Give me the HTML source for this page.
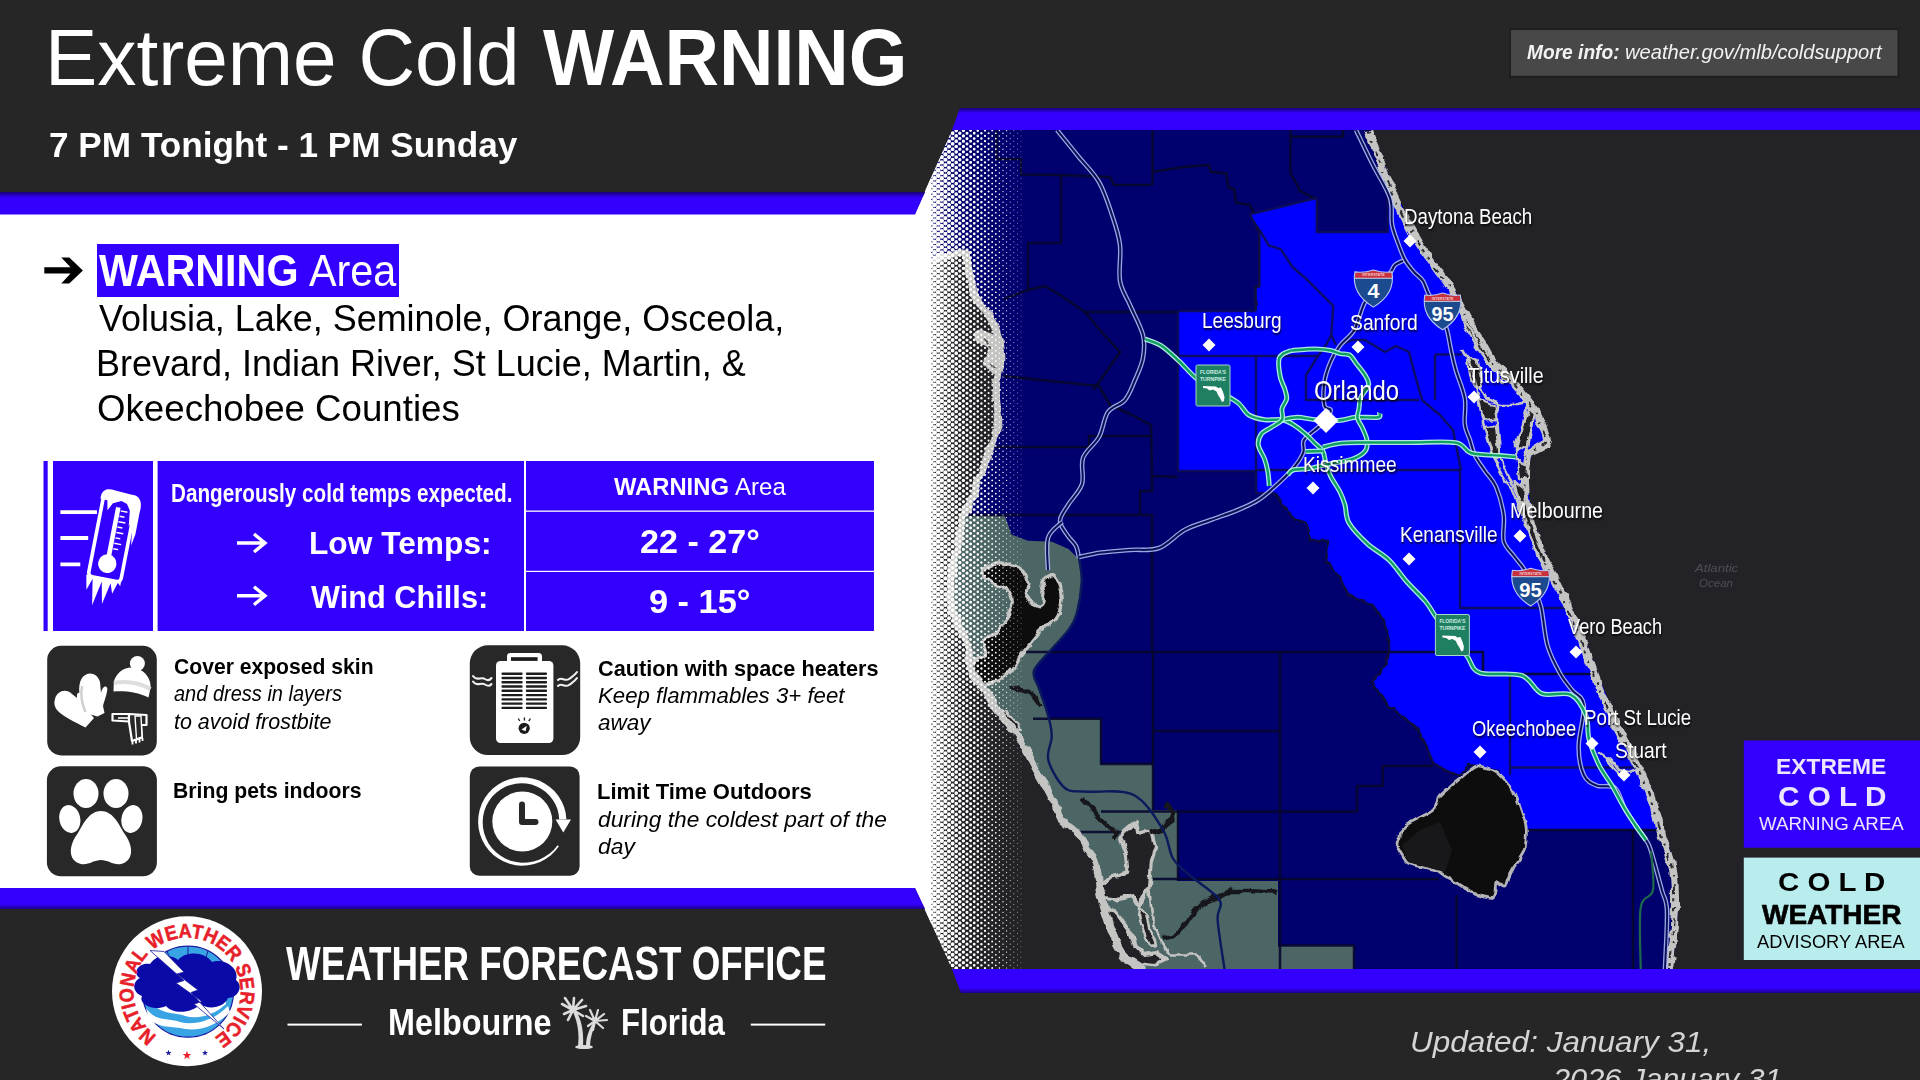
<!DOCTYPE html>
<html><head><meta charset="utf-8"><title>Extreme Cold WARNING</title>
<style>
html,body{margin:0;padding:0;}
html{overflow:hidden;width:1920px;height:1080px;}
body{width:1920px;height:1080px;overflow:hidden;background:#262626;font-family:"Liberation Sans",sans-serif;position:relative;}
.t{position:absolute;white-space:pre;line-height:1;transform-origin:0 0;display:block;}
svg{position:absolute;left:0;top:0;}
#page{position:absolute;left:0;top:0;width:1920px;height:1080px;overflow:hidden;}
</style></head>
<body>
<div id="page">
<svg width="1920" height="1080" viewBox="0 0 1920 1080" font-family="Liberation Sans, sans-serif">
<defs>
<clipPath id="mapclip"><path d="M952,130 L1920,130 L1920,969 L952,969 L915,888 L915,214 Z"/></clipPath>
<clipPath id="whiteclip"><path d="M0,214 L915,214 L952,130 L1920,130 L1920,969 L952,969 L915,888 L0,888 Z"/></clipPath>
<clipPath id="landclip"><path d="M900.0,120.0 L1371.0,120.0 L1371.0,130.0 L1383.0,160.0 L1395.0,192.0 L1408.0,218.0 L1421.0,242.0 L1436.0,264.0 L1452.0,286.0 L1464.0,307.0 L1475.0,327.0 L1487.0,346.0 L1498.0,365.0 L1514.0,380.0 L1530.0,399.0 L1540.0,414.0 L1546.0,428.0 L1550.0,441.0 L1541.0,448.0 L1532.0,453.0 L1529.0,465.0 L1528.0,476.0 L1529.0,495.0 L1532.0,515.0 L1538.0,535.0 L1545.0,554.0 L1558.0,580.0 L1573.0,612.0 L1584.0,638.0 L1594.0,664.0 L1604.0,690.0 L1615.0,716.0 L1628.0,742.0 L1642.0,769.0 L1653.0,795.0 L1661.0,822.0 L1669.0,846.0 L1676.0,869.0 L1678.0,890.0 L1678.0,911.0 L1676.0,940.0 L1672.0,969.0 L1672.0,975.0 L1140.0,975.0 L1128.5,961.3 L1116.5,944.0 L1106.3,916.8 L1099.4,892.8 L1098.0,878.0 L1094.3,862.0 L1086.0,847.0 L1077.0,832.8 L1060.0,819.0 L1054.0,804.0 L1046.0,788.0 L1035.0,768.0 L1024.0,747.0 L1013.0,730.0 L1002.0,716.0 L993.0,705.0 L982.0,686.0 L972.0,673.0 L969.0,660.0 L967.0,643.0 L958.0,625.0 L950.0,606.0 L950.0,588.0 L952.0,570.0 L956.0,551.0 L960.0,530.0 L963.0,514.0 L969.0,504.0 L977.0,483.0 L984.5,463.0 L992.0,443.0 L998.0,422.0 L996.0,402.0 L996.0,381.0 L1000.0,361.0 L999.0,345.0 L996.0,332.0 L991.0,320.0 L985.0,311.0 L977.0,300.0 L973.0,290.0 L968.0,270.0 L964.0,253.0 L950.0,255.0 L936.0,259.0 L915.0,262.0 L900.0,262.0Z"/></clipPath>
<linearGradient id="shd" x1="0" y1="0" x2="0" y2="1"><stop offset="0" stop-color="#000" stop-opacity=".55"/><stop offset="1" stop-color="#000" stop-opacity="0"/></linearGradient>
<linearGradient id="shu" x1="0" y1="1" x2="0" y2="0"><stop offset="0" stop-color="#000" stop-opacity=".45"/><stop offset="1" stop-color="#000" stop-opacity="0"/></linearGradient>
<filter id="rough" x="-5%" y="-5%" width="110%" height="110%"><feTurbulence type="fractalNoise" baseFrequency="0.09" numOctaves="2" seed="4" result="n"/><feDisplacementMap in="SourceGraphic" in2="n" scale="7" xChannelSelector="R" yChannelSelector="G"/></filter>
<filter id="rough2" x="-5%" y="-5%" width="110%" height="110%"><feTurbulence type="fractalNoise" baseFrequency="0.12" numOctaves="2" seed="9" result="n"/><feDisplacementMap in="SourceGraphic" in2="n" scale="4.5" xChannelSelector="R" yChannelSelector="G"/></filter>
</defs>
<g clip-path="url(#mapclip)">
<rect x="900" y="120" width="1030" height="860" fill="#232327"/>
<path d="M900.0,120.0 L1371.0,120.0 L1371.0,130.0 L1383.0,160.0 L1395.0,192.0 L1408.0,218.0 L1421.0,242.0 L1436.0,264.0 L1452.0,286.0 L1464.0,307.0 L1475.0,327.0 L1487.0,346.0 L1498.0,365.0 L1514.0,380.0 L1530.0,399.0 L1540.0,414.0 L1546.0,428.0 L1550.0,441.0 L1541.0,448.0 L1532.0,453.0 L1529.0,465.0 L1528.0,476.0 L1529.0,495.0 L1532.0,515.0 L1538.0,535.0 L1545.0,554.0 L1558.0,580.0 L1573.0,612.0 L1584.0,638.0 L1594.0,664.0 L1604.0,690.0 L1615.0,716.0 L1628.0,742.0 L1642.0,769.0 L1653.0,795.0 L1661.0,822.0 L1669.0,846.0 L1676.0,869.0 L1678.0,890.0 L1678.0,911.0 L1676.0,940.0 L1672.0,969.0 L1672.0,975.0 L1140.0,975.0 L1128.5,961.3 L1116.5,944.0 L1106.3,916.8 L1099.4,892.8 L1098.0,878.0 L1094.3,862.0 L1086.0,847.0 L1077.0,832.8 L1060.0,819.0 L1054.0,804.0 L1046.0,788.0 L1035.0,768.0 L1024.0,747.0 L1013.0,730.0 L1002.0,716.0 L993.0,705.0 L982.0,686.0 L972.0,673.0 L969.0,660.0 L967.0,643.0 L958.0,625.0 L950.0,606.0 L950.0,588.0 L952.0,570.0 L956.0,551.0 L960.0,530.0 L963.0,514.0 L969.0,504.0 L977.0,483.0 L984.5,463.0 L992.0,443.0 L998.0,422.0 L996.0,402.0 L996.0,381.0 L1000.0,361.0 L999.0,345.0 L996.0,332.0 L991.0,320.0 L985.0,311.0 L977.0,300.0 L973.0,290.0 L968.0,270.0 L964.0,253.0 L950.0,255.0 L936.0,259.0 L915.0,262.0 L900.0,262.0Z" fill="#00006e"/>
<g clip-path="url(#landclip)">
<path d="M900.0,516.0 L1005.0,516.0 L1011.5,534.6 L1027.8,540.7 L1052.0,541.8 L1068.5,549.0 L1080.7,561.0 L1081.7,581.5 L1076.6,614.0 L1068.5,630.0 L1052.0,648.7 L1036.0,667.0 L1034.0,676.0 L1039.6,690.0 L1049.0,718.7 L1101.0,718.7 L1101.0,764.0 L1153.0,764.0 L1153.0,810.0 L1178.0,810.0 L1178.0,881.0 L1278.0,881.0 L1278.0,945.4 L1354.0,945.4 L1354.0,975.0 L900.0,975.0Z" fill="#4c6565"/>
<path d="M1477.0,766.0 L1469.0,765.0 L1459.0,776.0 L1445.0,770.0 L1433.0,763.0 L1426.0,745.0 L1417.0,728.0 L1402.0,716.0 L1389.0,706.0 L1378.0,692.0 L1372.0,681.0 L1380.0,672.0 L1386.0,665.0 L1389.0,652.0 L1389.0,640.0 L1384.0,622.0 L1374.0,607.0 L1360.0,600.0 L1348.0,594.0 L1340.0,578.0 L1334.0,570.0 L1326.0,562.0 L1328.0,541.0 L1310.0,541.0 L1308.0,526.0 L1290.0,515.0 L1274.0,493.0 L1256.0,493.0 L1256.0,471.0 L1178.0,471.0 L1178.0,311.0 L1255.5,311.0 L1255.5,287.0 L1259.5,286.0 L1259.5,232.0 L1254.0,222.0 L1249.7,214.4 L1283.0,206.0 L1316.8,198.0 L1316.8,232.0 L1387.7,232.0 L1387.7,191.0 L1800.0,191.0 L1800.0,830.0 L1500.0,830.0 L1500.0,770.0Z" fill="#0000fe"/>
</g>
<g fill="none" stroke="#07072c" stroke-opacity=".9" stroke-width="2.5" stroke-linejoin="round">
<path d="M996.5,130.0 L996.5,159.0 L1021.0,159.0 L1021.0,174.5 L1061.0,175.0 L1110.0,177.0 L1114.0,185.0 L1151.0,185.0"/>
<path d="M1152.5,130.0 L1152.5,185.3"/>
<path d="M1152.5,171.7 L1185.5,166.8 L1208.9,164.9 L1210.8,171.7 L1226.4,173.6 L1228.3,187.2 L1234.1,189.2 L1236.1,202.8 L1249.7,204.7 L1253.6,212.5"/>
<path d="M1290.5,136.7 L1343.0,136.7 L1343.0,130.0"/>
<path d="M1061.0,175.0 L1061.0,243.0 L1028.0,243.0 L1028.0,290.0 L1045.0,286.0 L1060.0,295.0 L1085.0,312.0 L1100.0,330.0 L1120.0,352.0 L1102.0,378.0 L1093.0,390.0"/>
<path d="M1085.0,312.0 L1179.0,312.0"/>
<path d="M1004.0,299.0 L1028.0,290.0"/>
<path d="M1003.0,376.0 L1060.0,382.0 L1099.0,386.0 L1110.0,405.0 L1130.0,414.0 L1151.0,425.0 L1152.0,476.0 L1178.0,477.0"/>
<path d="M995.0,447.0 L1089.0,447.0 L1089.0,436.0 L1151.0,436.0"/>
<path d="M1152.0,476.0 L1152.0,491.0 L1140.0,491.0 L1140.0,515.0"/>
<path d="M961.0,515.0 L1152.0,515.0 L1152.0,652.0"/>
<path d="M1024.0,652.0 L1483.0,652.0 L1483.0,674.0 L1596.0,674.0"/>
<path d="M1153.0,652.0 L1153.0,810.0"/>
<path d="M1153.0,731.0 L1280.0,731.0"/>
<path d="M1033.0,718.7 L1101.0,718.7 L1101.0,764.0 L1153.0,764.0"/>
<path d="M1153.0,811.6 L1357.0,811.6 L1357.0,786.0 L1382.6,786.0 L1382.6,766.0 L1433.0,766.0"/>
<path d="M1101.0,811.6 L1153.0,811.6"/>
<path d="M1077.0,832.0 L1121.0,832.0"/>
<path d="M1153.0,879.0 L1439.0,879.0"/>
<path d="M1178.0,810.0 L1178.0,881.0"/>
<path d="M1280.0,652.0 L1280.0,969.0"/>
<path d="M1278.0,945.4 L1354.0,945.4 L1354.0,969.0"/>
<path d="M1456.6,895.0 L1456.6,969.0"/>
<path d="M1633.0,830.0 L1633.0,969.0"/>
<path d="M1527.0,830.0 L1664.0,830.0"/>
<path d="M1290.5,130.0 L1290.5,173.6 L1296.3,183.3 L1300.2,191.1 L1315.8,198.9"/>
</g><g fill="none" stroke="#0e0e52" stroke-opacity=".88" stroke-width="2.4" stroke-linejoin="round">
<path d="M1460.0,470.0 L1460.0,608.0 L1572.0,608.0"/>
<path d="M1510.0,674.0 L1510.0,775.0"/>
<path d="M1510.0,767.5 L1643.0,767.5"/>
<path d="M1256.0,356.0 L1256.0,493.0"/>
<path d="M1256.0,356.0 L1318.0,356.0 L1306.0,375.0 L1306.0,400.0 L1419.0,400.0"/>
<path d="M1256.0,470.0 L1461.0,470.0"/>
<path d="M1435.0,354.5 L1435.0,400.0"/>
<path d="M1435.0,354.5 L1462.0,354.5"/>
<path d="M1178.0,356.0 L1256.0,356.0"/>
<path d="M1339.0,346.0 L1352.0,340.0 L1365.0,340.0 L1385.0,352.0 L1396.0,346.0 L1409.0,352.0 L1415.0,375.0 L1422.0,400.0 L1440.0,415.0 L1453.0,430.0 L1461.0,470.0"/>
<path d="M1331.3,335.0 L1326.0,345.0 L1318.0,356.0"/>
<path d="M1259.4,230.0 L1269.0,245.5 L1280.8,249.4 L1292.5,267.0 L1306.0,278.6 L1313.8,286.4 L1333.3,305.8 L1331.3,335.0 L1336.0,345.0"/>
<path d="M1249.7,214.4 L1316.8,198.0 L1316.8,232.0 L1387.7,232.0 L1387.7,191.0"/>
<path d="M1249.7,214.4 L1254.0,222.0 L1259.5,232.0 L1259.5,286.0 L1255.5,287.0 L1255.5,311.0"/>
</g>
<path d="M1477.0,766.0 L1469.0,765.0 L1459.0,776.0 L1445.0,770.0 L1433.0,763.0 L1426.0,745.0 L1417.0,728.0 L1402.0,716.0 L1389.0,706.0 L1378.0,692.0 L1372.0,681.0 L1380.0,672.0 L1386.0,665.0 L1389.0,652.0 L1389.0,640.0 L1384.0,622.0 L1374.0,607.0 L1360.0,600.0 L1348.0,594.0 L1340.0,578.0 L1334.0,570.0 L1326.0,562.0 L1328.0,541.0 L1310.0,541.0 L1308.0,526.0 L1290.0,515.0 L1274.0,493.0" fill="none" stroke="#0c0c40" stroke-width="2.6" stroke-linejoin="round" filter="url(#rough2)"/>
<path d="M1274.0,493.0 L1256.0,493.0 L1256.0,471.0 L1178.0,471.0 L1178.0,311.0 L1255.5,311.0" fill="none" stroke="#0e0e52" stroke-opacity=".88" stroke-width="2.4" stroke-linejoin="round"/>
<path d="M1255.5,311.0 L1255.5,287.0 L1259.5,286.0 L1259.5,232.0 L1254.0,222.0" fill="none" stroke="#0c0c40" stroke-width="2.4" stroke-linejoin="round" filter="url(#rough2)"/>
<path d="M981.0,573.0 C981.3,569.2 992.6,563.7 999.0,563.0 C1005.4,562.3 1014.8,565.9 1019.6,569.0 C1024.4,572.1 1026.8,577.0 1027.8,581.5 C1028.8,586.0 1023.7,591.6 1025.7,595.7 C1027.7,599.8 1037.0,606.3 1040.0,606.0 C1043.0,605.7 1043.7,597.8 1044.0,593.7 C1044.3,589.6 1040.7,584.6 1042.0,581.5 C1043.3,578.4 1049.0,574.3 1052.0,575.0 C1055.0,575.7 1058.3,581.0 1060.0,585.5 C1061.7,590.0 1062.7,596.4 1062.0,601.8 C1061.3,607.2 1060.0,612.6 1056.0,618.0 C1052.0,623.4 1043.7,627.9 1038.0,634.0 C1032.3,640.1 1026.0,649.0 1021.6,654.8 C1017.2,660.6 1014.9,665.0 1011.5,669.0 C1008.1,673.0 1004.8,676.7 1001.0,679.0 C997.2,681.3 992.5,681.5 989.0,683.0 C985.5,684.5 982.8,689.2 980.0,688.0 C977.2,686.8 972.8,680.7 972.0,676.0 C971.2,671.3 972.8,663.5 975.0,660.0 C977.2,656.5 983.7,658.0 985.0,654.8 C986.3,651.5 980.7,644.6 983.0,640.5 C985.3,636.4 994.2,635.8 999.0,630.0 C1003.8,624.2 1009.8,612.4 1011.5,606.0 C1013.2,599.6 1011.4,595.0 1009.0,591.6 C1006.6,588.2 1001.7,588.6 997.0,585.5 C992.3,582.4 980.7,576.8 981.0,573.0Z" fill="#0d0d10" stroke="#c4c4c2" stroke-width="3.2" stroke-linejoin="round" filter="url(#rough)"/>
<g filter="url(#rough)">
<path d="M1120.0,836.3 L1128.0,829.0 L1135.4,822.5 L1137.0,832.8 L1145.0,831.0 L1152.5,832.8 L1156.0,846.5 L1150.8,862.0 L1149.0,886.0 L1142.2,899.6 L1140.5,908.0 L1137.0,905.0 L1133.7,896.0 L1116.5,899.6 L1104.5,898.0 L1100.3,886.0 L1109.7,877.4 L1128.5,872.0 L1126.8,855.0 L1121.7,841.4Z" fill="#232327" stroke="#c4c4c2" stroke-width="4" stroke-linejoin="round"/>
<path d="M1106.3,908.0 L1116.5,913.3 L1130.2,932.0 L1135.4,947.6 L1142.2,954.5 L1156.0,952.7 L1166.2,959.6 L1156.0,964.7 L1138.8,963.0 L1125.0,954.5 L1114.8,937.3 L1108.0,920.0Z" fill="#232327" stroke="#c4c4c2" stroke-width="3.6" stroke-linejoin="round"/>
<path d="M1140.5,908.0 L1146.0,915.0 L1150.0,930.0 L1156.0,945.0 L1150.0,946.0 L1144.0,932.0 L1139.0,916.0Z" fill="#232327" stroke="#c4c4c2" stroke-width="2.4" stroke-linejoin="round"/>
<path d="M996.7,708.3 L1008.3,713.3 L1018.3,723.3 L1020.0,730.0 L1013.3,728.3 L1003.3,718.3Z" fill="#232327" stroke="#c4c4c2" stroke-width="2" stroke-linejoin="round"/>
<path d="M1149,886 L1152.5,920 L1162.8,944 L1169.6,954.5 L1197,954.5 L1205.6,968" fill="none" stroke="#c4c4c2" stroke-width="2.6"/>
<path d="M1082.3,798.6 L1094.3,812.3 L1104.5,824.3 L1116.5,831 L1113,839.7" fill="none" stroke="#15181c" stroke-width="4.5" stroke-linejoin="round"/>
<path d="M1166.2,802 L1173,815.7 L1162.8,829.4 L1150.8,832.8" fill="none" stroke="#15181c" stroke-width="5" stroke-linejoin="round"/>
<path d="M1010,688 L1020,690 L1030,692 L1036,700 L1042,708" fill="none" stroke="#15181c" stroke-width="4.5" stroke-linejoin="round"/>
<path d="M1164.5,939 L1180,932 L1190.2,916.8 L1202.2,903 L1214.2,898 L1222.7,896.2 L1231.3,891 L1248.4,891 L1277.6,892.8" fill="none" stroke="#15181c" stroke-width="4.5" stroke-linejoin="round"/>
</g>
<path d="M1477.0,766.0 C1480.0,765.5 1483.8,767.0 1487.0,768.0 C1490.2,769.0 1492.8,769.7 1496.0,772.0 C1499.2,774.3 1502.8,778.3 1506.0,782.0 C1509.2,785.7 1512.5,789.3 1515.0,794.0 C1517.5,798.7 1519.2,804.7 1521.0,810.0 C1522.8,815.3 1525.2,821.0 1526.0,826.0 C1526.8,831.0 1526.3,835.8 1526.0,840.0 C1525.7,844.2 1525.3,847.5 1524.0,851.0 C1522.7,854.5 1520.0,857.8 1518.0,861.0 C1516.0,864.2 1513.7,867.2 1512.0,870.0 C1510.3,872.8 1509.2,875.3 1508.0,878.0 C1506.8,880.7 1506.3,885.0 1505.0,886.0 C1503.7,887.0 1501.5,884.7 1500.0,884.0 C1498.5,883.3 1496.8,881.0 1496.0,882.0 C1495.2,883.0 1495.5,887.3 1495.0,890.0 C1494.5,892.7 1494.7,896.8 1493.0,898.0 C1491.3,899.2 1487.7,897.5 1485.0,897.0 C1482.3,896.5 1480.2,896.3 1477.0,895.0 C1473.8,893.7 1469.7,891.2 1466.0,889.0 C1462.3,886.8 1458.5,884.2 1455.0,882.0 C1451.5,879.8 1448.2,878.0 1445.0,876.0 C1441.8,874.0 1439.8,871.5 1436.0,870.0 C1432.2,868.5 1426.7,868.2 1422.0,867.0 C1417.3,865.8 1411.3,865.0 1408.0,863.0 C1404.7,861.0 1403.8,858.0 1402.0,855.0 C1400.2,852.0 1397.3,848.3 1397.0,845.0 C1396.7,841.7 1398.7,838.2 1400.0,835.0 C1401.3,831.8 1401.8,828.8 1405.0,826.0 C1408.2,823.2 1414.3,820.7 1419.0,818.0 C1423.7,815.3 1430.0,812.5 1433.0,810.0 C1436.0,807.5 1436.0,805.2 1437.0,803.0 C1438.0,800.8 1436.8,799.7 1439.0,797.0 C1441.2,794.3 1446.3,790.2 1450.0,787.0 C1453.7,783.8 1457.8,780.7 1461.0,778.0 C1464.2,775.3 1466.3,773.0 1469.0,771.0 C1471.7,769.0 1474.0,766.5 1477.0,766.0Z" fill="#0c0c0f" stroke="#b4b4b6" stroke-width="2.8" filter="url(#rough2)"/>
<path d="M1402,845 L1420,830 L1440,822 L1452,850 L1445,872 L1422,866 L1408,862 Z" fill="#18181b"/>
<g filter="url(#rough)">
<path d="M936.5,259.0 C938.8,258.3 945.8,256.0 950.5,255.0 C955.2,254.0 961.5,250.5 964.5,253.0 C967.5,255.5 967.0,263.8 968.5,270.0 C970.0,276.2 972.0,285.0 973.5,290.0 C975.0,295.0 975.5,296.5 977.5,300.0 C979.5,303.5 983.2,307.7 985.5,311.0 C987.8,314.3 989.7,316.5 991.5,320.0 C993.3,323.5 995.2,327.8 996.5,332.0 C997.8,336.2 998.8,340.2 999.5,345.0 C1000.2,349.8 1001.0,355.0 1000.5,361.0 C1000.0,367.0 997.2,374.2 996.5,381.0 C995.8,387.8 996.2,395.2 996.5,402.0 C996.8,408.8 999.2,415.2 998.5,422.0 C997.8,428.8 994.8,436.2 992.5,443.0 C990.2,449.8 987.5,456.3 985.0,463.0 C982.5,469.7 980.1,476.2 977.5,483.0 C974.9,489.8 971.8,498.8 969.5,504.0 C967.2,509.2 965.0,509.7 963.5,514.0 C962.0,518.3 961.7,523.8 960.5,530.0 C959.3,536.2 957.8,544.3 956.5,551.0 C955.2,557.7 953.5,563.8 952.5,570.0 C951.5,576.2 950.8,582.0 950.5,588.0 C950.2,594.0 949.2,599.8 950.5,606.0 C951.8,612.2 955.7,618.8 958.5,625.0 C961.3,631.2 965.7,637.2 967.5,643.0 C969.3,648.8 968.7,655.0 969.5,660.0 C970.3,665.0 970.3,668.7 972.5,673.0 C974.7,677.3 979.0,680.7 982.5,686.0 C986.0,691.3 990.2,700.0 993.5,705.0 C996.8,710.0 999.2,711.8 1002.5,716.0 C1005.8,720.2 1009.8,724.8 1013.5,730.0 C1017.2,735.2 1020.8,740.7 1024.5,747.0 C1028.2,753.3 1031.8,761.2 1035.5,768.0 C1039.2,774.8 1043.3,782.0 1046.5,788.0 C1049.7,794.0 1052.2,798.8 1054.5,804.0 C1056.8,809.2 1056.7,814.2 1060.5,819.0 C1064.3,823.8 1073.2,828.1 1077.5,832.8 C1081.8,837.5 1083.6,842.1 1086.5,847.0 C1089.4,851.9 1092.8,856.8 1094.8,862.0 C1096.8,867.2 1097.7,872.9 1098.5,878.0 C1099.3,883.1 1098.5,886.3 1099.9,892.8 C1101.3,899.3 1104.0,908.3 1106.8,916.8 C1109.6,925.3 1113.3,936.6 1117.0,944.0 C1120.7,951.4 1124.7,957.1 1129.0,961.3 C1133.3,965.5 1140.4,967.7 1142.7,969.0" fill="none" stroke="#c4c4c2" stroke-width="7.5" stroke-linejoin="round" stroke-linecap="round"/>
<path d="M980,336 L990,340 L996,350 L990,362 L994,368" fill="none" stroke="#c4c4c2" stroke-width="13" stroke-linecap="round" stroke-linejoin="round"/>
<path d="M984,338 L992,350 M990,362 L996,368" fill="none" stroke="#555" stroke-width="1.5"/>
<path d="M1367.8,130.0 C1369.8,135.0 1375.8,149.7 1379.8,160.0 C1383.8,170.3 1387.6,182.3 1391.8,192.0 C1396.0,201.7 1400.5,209.7 1404.8,218.0 C1409.1,226.3 1413.1,234.3 1417.8,242.0 C1422.5,249.7 1427.6,256.7 1432.8,264.0 C1438.0,271.3 1444.1,278.8 1448.8,286.0 C1453.5,293.2 1457.0,300.2 1460.8,307.0 C1464.6,313.8 1468.0,320.5 1471.8,327.0 C1475.6,333.5 1480.0,339.7 1483.8,346.0 C1487.6,352.3 1490.3,359.3 1494.8,365.0 C1499.3,370.7 1505.5,374.3 1510.8,380.0 C1516.1,385.7 1522.5,393.3 1526.8,399.0 C1531.1,404.7 1534.1,409.2 1536.8,414.0 C1539.5,418.8 1541.1,423.5 1542.8,428.0 C1544.5,432.5 1547.6,437.7 1546.8,441.0 C1546.0,444.3 1540.8,446.0 1537.8,448.0 C1534.8,450.0 1530.8,450.2 1528.8,453.0 C1526.8,455.8 1526.5,461.2 1525.8,465.0 C1525.1,468.8 1524.8,471.0 1524.8,476.0 C1524.8,481.0 1525.1,488.5 1525.8,495.0 C1526.5,501.5 1527.3,508.3 1528.8,515.0 C1530.3,521.7 1532.6,528.5 1534.8,535.0 C1537.0,541.5 1538.5,546.5 1541.8,554.0 C1545.1,561.5 1550.1,570.3 1554.8,580.0 C1559.5,589.7 1565.5,602.3 1569.8,612.0 C1574.1,621.7 1577.3,629.3 1580.8,638.0 C1584.3,646.7 1587.5,655.3 1590.8,664.0 C1594.1,672.7 1597.3,681.3 1600.8,690.0 C1604.3,698.7 1607.8,707.3 1611.8,716.0 C1615.8,724.7 1620.3,733.2 1624.8,742.0 C1629.3,750.8 1634.6,760.2 1638.8,769.0 C1643.0,777.8 1646.6,786.2 1649.8,795.0 C1653.0,803.8 1655.1,813.5 1657.8,822.0 C1660.5,830.5 1663.3,838.2 1665.8,846.0 C1668.3,853.8 1671.3,861.7 1672.8,869.0 C1674.3,876.3 1674.5,883.0 1674.8,890.0 C1675.1,897.0 1675.1,902.7 1674.8,911.0 C1674.5,919.3 1673.8,930.3 1672.8,940.0 C1671.8,949.7 1669.5,964.2 1668.8,969.0" fill="none" stroke="#c4c4c2" stroke-width="8" stroke-linejoin="round"/>
<path d="M1367.0,130.0 C1369.0,135.0 1375.0,149.7 1379.0,160.0 C1383.0,170.3 1386.8,182.3 1391.0,192.0 C1395.2,201.7 1399.7,209.7 1404.0,218.0 C1408.3,226.3 1412.3,234.3 1417.0,242.0 C1421.7,249.7 1426.8,256.7 1432.0,264.0 C1437.2,271.3 1443.3,278.8 1448.0,286.0 C1452.7,293.2 1456.2,300.2 1460.0,307.0 C1463.8,313.8 1467.2,320.5 1471.0,327.0 C1474.8,333.5 1479.2,339.7 1483.0,346.0 C1486.8,352.3 1489.5,359.3 1494.0,365.0 C1498.5,370.7 1504.7,374.3 1510.0,380.0 C1515.3,385.7 1521.7,393.3 1526.0,399.0 C1530.3,404.7 1533.3,409.2 1536.0,414.0 C1538.7,418.8 1540.3,423.5 1542.0,428.0 C1543.7,432.5 1546.8,437.7 1546.0,441.0 C1545.2,444.3 1540.0,446.0 1537.0,448.0 C1534.0,450.0 1530.0,450.2 1528.0,453.0 C1526.0,455.8 1525.7,461.2 1525.0,465.0 C1524.3,468.8 1524.0,471.0 1524.0,476.0 C1524.0,481.0 1524.3,488.5 1525.0,495.0 C1525.7,501.5 1526.5,508.3 1528.0,515.0 C1529.5,521.7 1531.8,528.5 1534.0,535.0 C1536.2,541.5 1537.7,546.5 1541.0,554.0 C1544.3,561.5 1549.3,570.3 1554.0,580.0 C1558.7,589.7 1564.7,602.3 1569.0,612.0 C1573.3,621.7 1576.5,629.3 1580.0,638.0 C1583.5,646.7 1586.7,655.3 1590.0,664.0 C1593.3,672.7 1596.5,681.3 1600.0,690.0 C1603.5,698.7 1607.0,707.3 1611.0,716.0 C1615.0,724.7 1619.5,733.2 1624.0,742.0 C1628.5,750.8 1633.8,760.2 1638.0,769.0 C1642.2,777.8 1645.8,786.2 1649.0,795.0 C1652.2,803.8 1654.3,813.5 1657.0,822.0 C1659.7,830.5 1662.5,838.2 1665.0,846.0 C1667.5,853.8 1670.5,861.7 1672.0,869.0 C1673.5,876.3 1673.7,883.0 1674.0,890.0 C1674.3,897.0 1674.3,902.7 1674.0,911.0 C1673.7,919.3 1673.0,930.3 1672.0,940.0 C1671.0,949.7 1668.7,964.2 1668.0,969.0" fill="none" stroke="#2a2a30" stroke-width="2" stroke-dasharray="4 7 2 9 6 5" stroke-linejoin="round"/>
<path d="M1462.0,318.0 L1468.0,320.0 L1480.0,342.0 L1492.0,362.0 L1488.0,364.0 L1476.0,346.0 L1465.0,328.0Z" fill="#232327" stroke="#c4c4c2" stroke-width="2.2" stroke-linejoin="round"/>
<path d="M1466.7,356.7 L1477.8,361.0 L1482.0,385.6 L1474.4,387.8 L1469.0,374.0Z" fill="#232327" stroke="#c4c4c2" stroke-width="2.2" stroke-linejoin="round"/>
<path d="M1477.8,399.0 L1494.4,405.6 L1496.7,419.0 L1483.3,421.0Z" fill="#232327" stroke="#c4c4c2" stroke-width="2.2" stroke-linejoin="round"/>
<path d="M1484.4,425.6 L1495.6,425.6 L1500.0,456.7 L1494.4,459.0Z" fill="#232327" stroke="#c4c4c2" stroke-width="2.2" stroke-linejoin="round"/>
<path d="M1529.0,410.0 L1534.4,414.4 L1527.8,445.6 L1518.9,450.0 L1515.6,445.6 L1523.3,425.6Z" fill="#232327" stroke="#c4c4c2" stroke-width="2.2" stroke-linejoin="round"/>
<path d="M1516.7,459.0 L1527.8,468.0 L1527.8,481.0 L1519.0,478.0Z" fill="#232327" stroke="#c4c4c2" stroke-width="2.2" stroke-linejoin="round"/>
<path d="M1514.4,481.0 L1525.6,490.0 L1525.6,503.0 L1519.0,503.0Z" fill="#232327" stroke="#c4c4c2" stroke-width="2.2" stroke-linejoin="round"/>
<path d="M1519.0,503.0 L1526.0,505.0 L1534.0,530.0 L1546.0,560.0 L1542.0,562.0 L1530.0,535.0Z" fill="#232327" stroke="#c4c4c2" stroke-width="2.2" stroke-linejoin="round"/>
<path d="M1461.0,314.0 L1470.0,330.0 L1480.0,350.0 L1490.0,366.0 L1503.0,383.0" fill="none" stroke="#c4c4c2" stroke-width="2.6" stroke-linejoin="round" stroke-linecap="round"/>
<path d="M1463.0,350.0 L1470.0,362.0 L1476.0,385.0 L1479.0,401.0 L1483.0,423.0 L1489.0,442.0 L1494.0,459.0 L1503.0,476.0 L1512.0,490.0 L1519.0,508.0 L1526.0,526.0 L1535.0,548.0 L1547.0,578.0" fill="none" stroke="#c4c4c2" stroke-width="2.6" stroke-linejoin="round" stroke-linecap="round"/>
<path d="M1481.0,388.0 L1486.0,398.0 L1497.0,402.0 L1497.0,421.0 L1499.0,440.0 L1500.0,457.0 L1508.0,475.0 L1516.0,492.0 L1523.0,510.0" fill="none" stroke="#c4c4c2" stroke-width="2.6" stroke-linejoin="round" stroke-linecap="round"/>
<path d="M1486.0,398.0 L1500.0,404.0 L1515.0,404.0 L1528.0,402.0" fill="none" stroke="#c4c4c2" stroke-width="2.6" stroke-linejoin="round" stroke-linecap="round"/>
<path d="M1528.0,402.0 L1524.0,420.0 L1518.0,445.0 L1515.0,458.0" fill="none" stroke="#c4c4c2" stroke-width="2.6" stroke-linejoin="round" stroke-linecap="round"/>
<path d="M1535.0,410.0 L1531.0,430.0 L1527.0,450.0 L1528.0,468.0" fill="none" stroke="#c4c4c2" stroke-width="2.6" stroke-linejoin="round" stroke-linecap="round"/>
<path d="M1600.0,753.0 L1610.0,760.0 L1618.0,770.0 L1630.0,772.0 L1638.0,768.0" fill="none" stroke="#c4c4c2" stroke-width="2.6" stroke-linejoin="round" stroke-linecap="round"/>
<path d="M1606.0,758.0 L1612.0,768.0 L1620.0,776.0" fill="none" stroke="#c4c4c2" stroke-width="2.6" stroke-linejoin="round" stroke-linecap="round"/>
</g>
<path d="M1057.0,130.0 C1060.5,134.3 1071.0,147.3 1078.0,156.0 C1085.0,164.7 1093.3,172.2 1099.0,182.0 C1104.7,191.8 1108.5,204.5 1112.0,215.0 C1115.5,225.5 1118.7,234.0 1120.0,245.0 C1121.3,256.0 1118.3,271.0 1120.0,281.0 C1121.7,291.0 1126.2,296.0 1130.0,305.0 C1133.8,314.0 1140.8,326.2 1143.0,335.0 C1145.2,343.8 1144.3,350.5 1143.0,358.0 C1141.7,365.5 1138.0,373.0 1135.0,380.0 C1132.0,387.0 1129.5,394.7 1125.0,400.0 C1120.5,405.3 1112.3,405.8 1108.0,412.0 C1103.7,418.2 1103.2,429.3 1099.0,437.0 C1094.8,444.7 1085.8,450.2 1083.0,458.0 C1080.2,465.8 1084.5,476.2 1082.0,484.0 C1079.5,491.8 1071.7,498.8 1068.0,505.0 C1064.3,511.2 1060.0,515.8 1060.0,521.0 C1060.0,526.2 1065.3,531.8 1068.0,536.0 C1070.7,540.2 1074.2,542.3 1076.0,546.0 C1077.8,549.7 1078.5,556.0 1079.0,558.0" fill="none" stroke="#b0beF4" stroke-width="4.6" stroke-opacity=".88" stroke-linejoin="round"/>
<path d="M1057.0,130.0 C1060.5,134.3 1071.0,147.3 1078.0,156.0 C1085.0,164.7 1093.3,172.2 1099.0,182.0 C1104.7,191.8 1108.5,204.5 1112.0,215.0 C1115.5,225.5 1118.7,234.0 1120.0,245.0 C1121.3,256.0 1118.3,271.0 1120.0,281.0 C1121.7,291.0 1126.2,296.0 1130.0,305.0 C1133.8,314.0 1140.8,326.2 1143.0,335.0 C1145.2,343.8 1144.3,350.5 1143.0,358.0 C1141.7,365.5 1138.0,373.0 1135.0,380.0 C1132.0,387.0 1129.5,394.7 1125.0,400.0 C1120.5,405.3 1112.3,405.8 1108.0,412.0 C1103.7,418.2 1103.2,429.3 1099.0,437.0 C1094.8,444.7 1085.8,450.2 1083.0,458.0 C1080.2,465.8 1084.5,476.2 1082.0,484.0 C1079.5,491.8 1071.7,498.8 1068.0,505.0 C1064.3,511.2 1060.0,515.8 1060.0,521.0 C1060.0,526.2 1065.3,531.8 1068.0,536.0 C1070.7,540.2 1074.2,542.3 1076.0,546.0 C1077.8,549.7 1078.5,556.0 1079.0,558.0" fill="none" stroke="#0a0f5a" stroke-width="2" stroke-linejoin="round"/>
<path d="M1079.0,558.0 C1079.5,561.9 1082.1,572.2 1081.7,581.5 C1081.3,590.8 1078.8,605.9 1076.6,614.0 C1074.4,622.1 1072.6,624.2 1068.5,630.0 C1064.4,635.8 1057.4,642.5 1052.0,648.7 C1046.6,654.9 1039.0,662.5 1036.0,667.0 C1033.0,671.5 1033.4,672.2 1034.0,676.0 C1034.6,679.8 1037.1,682.9 1039.6,690.0 C1042.1,697.1 1047.0,710.9 1049.0,718.7 C1051.0,726.5 1051.9,730.2 1051.7,736.7 C1051.5,743.2 1047.2,751.1 1048.0,758.0 C1048.8,764.9 1053.4,772.7 1056.7,778.0 C1060.0,783.3 1062.8,787.7 1068.0,790.0 C1073.2,792.3 1077.0,790.9 1088.0,791.7 C1099.0,792.5 1121.2,788.7 1133.7,795.0 C1146.2,801.3 1156.2,818.8 1162.8,829.4 C1169.3,840.0 1168.4,850.8 1173.0,858.5 C1177.6,866.2 1182.5,868.9 1190.2,875.7 C1197.9,882.6 1214.7,892.2 1219.3,899.6 C1223.9,907.0 1216.7,908.4 1217.6,920.0 C1218.5,931.6 1223.3,960.8 1224.5,969.0" fill="none" stroke="#0a1a5c" stroke-width="2.4" stroke-linejoin="round"/>
<path d="M1048.0,570.0 C1048.0,564.7 1045.7,546.0 1048.0,538.0 C1050.3,530.0 1059.7,524.7 1062.0,522.0" fill="none" stroke="#b0beF4" stroke-width="4.6" stroke-opacity=".88" stroke-linejoin="round"/>
<path d="M1048.0,570.0 C1048.0,564.7 1045.7,546.0 1048.0,538.0 C1050.3,530.0 1059.7,524.7 1062.0,522.0" fill="none" stroke="#0a0f5a" stroke-width="2" stroke-linejoin="round"/>
<path d="M1079.0,557.0 C1082.7,556.2 1092.5,553.7 1101.0,552.5 C1109.5,551.3 1120.3,550.8 1130.0,550.0 C1139.7,549.2 1149.9,551.3 1159.0,548.0 C1168.1,544.7 1175.9,534.7 1184.5,530.0 C1193.1,525.3 1201.6,523.3 1210.5,520.0 C1219.4,516.7 1229.8,513.3 1237.8,510.0 C1245.8,506.7 1252.3,503.8 1258.3,500.0 C1264.3,496.2 1268.2,492.6 1274.0,487.3 C1279.8,482.1 1288.1,474.3 1293.0,468.5 C1297.9,462.7 1301.4,457.4 1303.2,452.7 C1305.0,447.9 1301.5,444.2 1304.0,440.0 C1306.5,435.8 1314.3,430.8 1318.0,427.5 C1321.7,424.2 1323.9,422.9 1326.0,420.0 C1328.1,417.1 1331.0,412.4 1330.7,410.0 C1330.4,407.6 1325.5,410.2 1324.4,405.5 C1323.4,400.8 1323.4,389.3 1324.4,382.0 C1325.5,374.7 1328.1,367.6 1330.7,361.5 C1333.3,355.4 1336.1,350.9 1340.0,345.7 C1343.9,340.4 1350.3,336.9 1354.3,330.0 C1358.3,323.1 1360.4,311.5 1364.0,304.0 C1367.6,296.5 1371.7,290.2 1376.0,285.0 C1380.3,279.8 1386.8,276.3 1390.0,273.0 C1393.2,269.7 1392.5,267.2 1395.0,265.0 C1397.5,262.8 1403.3,260.8 1405.0,260.0" fill="none" stroke="#b0beF4" stroke-width="4.6" stroke-opacity=".88" stroke-linejoin="round"/>
<path d="M1079.0,557.0 C1082.7,556.2 1092.5,553.7 1101.0,552.5 C1109.5,551.3 1120.3,550.8 1130.0,550.0 C1139.7,549.2 1149.9,551.3 1159.0,548.0 C1168.1,544.7 1175.9,534.7 1184.5,530.0 C1193.1,525.3 1201.6,523.3 1210.5,520.0 C1219.4,516.7 1229.8,513.3 1237.8,510.0 C1245.8,506.7 1252.3,503.8 1258.3,500.0 C1264.3,496.2 1268.2,492.6 1274.0,487.3 C1279.8,482.1 1288.1,474.3 1293.0,468.5 C1297.9,462.7 1301.4,457.4 1303.2,452.7 C1305.0,447.9 1301.5,444.2 1304.0,440.0 C1306.5,435.8 1314.3,430.8 1318.0,427.5 C1321.7,424.2 1323.9,422.9 1326.0,420.0 C1328.1,417.1 1331.0,412.4 1330.7,410.0 C1330.4,407.6 1325.5,410.2 1324.4,405.5 C1323.4,400.8 1323.4,389.3 1324.4,382.0 C1325.5,374.7 1328.1,367.6 1330.7,361.5 C1333.3,355.4 1336.1,350.9 1340.0,345.7 C1343.9,340.4 1350.3,336.9 1354.3,330.0 C1358.3,323.1 1360.4,311.5 1364.0,304.0 C1367.6,296.5 1371.7,290.2 1376.0,285.0 C1380.3,279.8 1386.8,276.3 1390.0,273.0 C1393.2,269.7 1392.5,267.2 1395.0,265.0 C1397.5,262.8 1403.3,260.8 1405.0,260.0" fill="none" stroke="#0a0f5a" stroke-width="2" stroke-linejoin="round"/>
<path d="M1356.0,130.0 C1358.8,135.8 1367.3,153.7 1373.0,165.0 C1378.7,176.3 1386.8,188.2 1390.0,198.0 C1393.2,207.8 1390.7,216.5 1392.0,224.0 C1393.3,231.5 1395.8,237.0 1398.0,243.0 C1400.2,249.0 1402.3,255.2 1405.0,260.0 C1407.7,264.8 1411.0,268.5 1414.0,272.0 C1417.0,275.5 1420.6,277.3 1423.0,281.0 C1425.4,284.7 1425.8,288.8 1428.6,294.0 C1431.4,299.2 1436.9,306.0 1440.0,312.0 C1443.1,318.0 1445.2,323.7 1447.0,330.0 C1448.8,336.3 1449.5,343.3 1451.0,350.0 C1452.5,356.7 1453.5,361.9 1455.8,370.0 C1458.1,378.1 1463.3,389.4 1464.8,398.5 C1466.3,407.6 1463.9,417.6 1464.8,424.5 C1465.7,431.4 1468.3,434.8 1470.0,440.0 C1471.7,445.2 1472.5,450.4 1475.0,455.6 C1477.5,460.8 1481.5,465.8 1485.0,471.0 C1488.5,476.2 1492.9,479.4 1496.0,486.7 C1499.1,494.0 1502.4,505.9 1503.7,515.0 C1505.0,524.0 1502.0,534.2 1503.7,541.0 C1505.4,547.8 1510.5,551.2 1514.0,556.0 C1517.5,560.8 1521.3,564.4 1524.5,569.7 C1527.7,575.0 1530.2,581.8 1533.0,588.0 C1535.8,594.2 1538.6,597.1 1541.0,606.7 C1543.4,616.3 1544.3,634.4 1547.5,645.6 C1550.7,656.8 1556.3,666.6 1560.4,674.0 C1564.5,681.4 1568.1,684.8 1572.0,690.0 C1575.9,695.2 1582.7,695.5 1583.8,705.0 C1584.9,714.5 1578.6,735.0 1578.6,746.7 C1578.6,758.4 1580.8,768.5 1583.8,775.0 C1586.8,781.5 1591.5,783.4 1596.7,785.6 C1601.9,787.8 1610.3,784.1 1615.0,788.0 C1619.7,791.9 1621.5,802.7 1625.0,809.0 C1628.5,815.3 1632.5,820.8 1636.0,826.0 C1639.5,831.2 1643.5,835.8 1646.0,840.0 C1648.5,844.2 1648.4,842.7 1651.0,851.0 C1653.6,859.3 1659.1,880.0 1661.8,890.0 C1664.5,900.0 1666.5,897.8 1667.0,911.0 C1667.5,924.2 1665.3,959.3 1665.0,969.0" fill="none" stroke="#b0beF4" stroke-width="4.6" stroke-opacity=".88" stroke-linejoin="round"/>
<path d="M1356.0,130.0 C1358.8,135.8 1367.3,153.7 1373.0,165.0 C1378.7,176.3 1386.8,188.2 1390.0,198.0 C1393.2,207.8 1390.7,216.5 1392.0,224.0 C1393.3,231.5 1395.8,237.0 1398.0,243.0 C1400.2,249.0 1402.3,255.2 1405.0,260.0 C1407.7,264.8 1411.0,268.5 1414.0,272.0 C1417.0,275.5 1420.6,277.3 1423.0,281.0 C1425.4,284.7 1425.8,288.8 1428.6,294.0 C1431.4,299.2 1436.9,306.0 1440.0,312.0 C1443.1,318.0 1445.2,323.7 1447.0,330.0 C1448.8,336.3 1449.5,343.3 1451.0,350.0 C1452.5,356.7 1453.5,361.9 1455.8,370.0 C1458.1,378.1 1463.3,389.4 1464.8,398.5 C1466.3,407.6 1463.9,417.6 1464.8,424.5 C1465.7,431.4 1468.3,434.8 1470.0,440.0 C1471.7,445.2 1472.5,450.4 1475.0,455.6 C1477.5,460.8 1481.5,465.8 1485.0,471.0 C1488.5,476.2 1492.9,479.4 1496.0,486.7 C1499.1,494.0 1502.4,505.9 1503.7,515.0 C1505.0,524.0 1502.0,534.2 1503.7,541.0 C1505.4,547.8 1510.5,551.2 1514.0,556.0 C1517.5,560.8 1521.3,564.4 1524.5,569.7 C1527.7,575.0 1530.2,581.8 1533.0,588.0 C1535.8,594.2 1538.6,597.1 1541.0,606.7 C1543.4,616.3 1544.3,634.4 1547.5,645.6 C1550.7,656.8 1556.3,666.6 1560.4,674.0 C1564.5,681.4 1568.1,684.8 1572.0,690.0 C1575.9,695.2 1582.7,695.5 1583.8,705.0 C1584.9,714.5 1578.6,735.0 1578.6,746.7 C1578.6,758.4 1580.8,768.5 1583.8,775.0 C1586.8,781.5 1591.5,783.4 1596.7,785.6 C1601.9,787.8 1610.3,784.1 1615.0,788.0 C1619.7,791.9 1621.5,802.7 1625.0,809.0 C1628.5,815.3 1632.5,820.8 1636.0,826.0 C1639.5,831.2 1643.5,835.8 1646.0,840.0 C1648.5,844.2 1648.4,842.7 1651.0,851.0 C1653.6,859.3 1659.1,880.0 1661.8,890.0 C1664.5,900.0 1666.5,897.8 1667.0,911.0 C1667.5,924.2 1665.3,959.3 1665.0,969.0" fill="none" stroke="#0a0f5a" stroke-width="2" stroke-linejoin="round"/>
<path d="M1651.0,851.0 C1651.3,857.5 1654.7,880.6 1653.0,890.0 C1651.3,899.4 1642.8,894.3 1640.7,907.5 C1638.7,920.7 1640.7,958.8 1640.7,969.0" fill="none" stroke="#1d6a4a" stroke-width="2.2"/>
<path d="M1145.0,339.0 C1147.7,340.1 1155.3,341.9 1161.0,345.6 C1166.7,349.3 1173.2,355.6 1179.0,361.0 C1184.8,366.4 1190.3,373.5 1196.0,378.0 C1201.7,382.5 1207.3,384.7 1213.0,388.0 C1218.7,391.3 1225.6,395.0 1230.0,397.7 C1234.4,400.4 1236.2,401.1 1239.4,404.0 C1242.6,406.9 1244.7,412.4 1248.9,415.0 C1253.1,417.6 1259.1,418.9 1264.6,419.7 C1270.1,420.5 1277.3,418.9 1282.0,419.7 C1286.7,420.5 1289.1,422.0 1293.0,424.4 C1296.9,426.8 1301.8,430.6 1305.5,433.8 C1309.2,437.0 1312.1,440.4 1315.0,443.3 C1317.9,446.2 1321.0,447.6 1322.8,451.0 C1324.6,454.4 1324.7,459.5 1326.0,463.7 C1327.3,467.9 1328.4,471.6 1330.7,476.3 C1333.0,481.0 1337.6,487.2 1340.0,492.0 C1342.4,496.8 1343.5,499.8 1345.0,505.0 C1346.5,510.2 1345.2,516.5 1349.0,523.0 C1352.8,529.5 1360.8,537.6 1367.5,543.8 C1374.2,550.0 1382.4,553.6 1389.0,560.0 C1395.6,566.4 1400.9,575.1 1407.0,582.0 C1413.1,588.9 1420.8,595.7 1425.6,601.5 C1430.4,607.3 1431.6,611.1 1436.0,617.0 C1440.4,622.9 1446.8,630.5 1452.0,637.0 C1457.2,643.5 1462.3,650.0 1467.0,656.0 C1471.7,662.0 1470.9,669.6 1480.0,672.8 C1489.1,676.0 1511.2,671.9 1521.5,675.4 C1531.8,678.9 1533.8,690.4 1542.0,693.6 C1550.2,696.8 1563.5,691.1 1570.8,694.8 C1578.1,698.5 1583.0,708.2 1586.0,715.6 C1589.0,723.0 1586.8,730.8 1589.0,739.0 C1591.2,747.2 1595.2,757.2 1599.0,765.0 C1602.8,772.8 1607.7,778.3 1612.0,785.6 C1616.3,792.9 1621.0,802.3 1625.0,809.0 C1629.0,815.7 1632.5,820.8 1636.0,826.0 C1639.5,831.2 1644.3,837.7 1646.0,840.0" fill="none" stroke="#b8f4e4" stroke-width="5" stroke-opacity=".95" stroke-linejoin="round"/>
<path d="M1145.0,339.0 C1147.7,340.1 1155.3,341.9 1161.0,345.6 C1166.7,349.3 1173.2,355.6 1179.0,361.0 C1184.8,366.4 1190.3,373.5 1196.0,378.0 C1201.7,382.5 1207.3,384.7 1213.0,388.0 C1218.7,391.3 1225.6,395.0 1230.0,397.7 C1234.4,400.4 1236.2,401.1 1239.4,404.0 C1242.6,406.9 1244.7,412.4 1248.9,415.0 C1253.1,417.6 1259.1,418.9 1264.6,419.7 C1270.1,420.5 1277.3,418.9 1282.0,419.7 C1286.7,420.5 1289.1,422.0 1293.0,424.4 C1296.9,426.8 1301.8,430.6 1305.5,433.8 C1309.2,437.0 1312.1,440.4 1315.0,443.3 C1317.9,446.2 1321.0,447.6 1322.8,451.0 C1324.6,454.4 1324.7,459.5 1326.0,463.7 C1327.3,467.9 1328.4,471.6 1330.7,476.3 C1333.0,481.0 1337.6,487.2 1340.0,492.0 C1342.4,496.8 1343.5,499.8 1345.0,505.0 C1346.5,510.2 1345.2,516.5 1349.0,523.0 C1352.8,529.5 1360.8,537.6 1367.5,543.8 C1374.2,550.0 1382.4,553.6 1389.0,560.0 C1395.6,566.4 1400.9,575.1 1407.0,582.0 C1413.1,588.9 1420.8,595.7 1425.6,601.5 C1430.4,607.3 1431.6,611.1 1436.0,617.0 C1440.4,622.9 1446.8,630.5 1452.0,637.0 C1457.2,643.5 1462.3,650.0 1467.0,656.0 C1471.7,662.0 1470.9,669.6 1480.0,672.8 C1489.1,676.0 1511.2,671.9 1521.5,675.4 C1531.8,678.9 1533.8,690.4 1542.0,693.6 C1550.2,696.8 1563.5,691.1 1570.8,694.8 C1578.1,698.5 1583.0,708.2 1586.0,715.6 C1589.0,723.0 1586.8,730.8 1589.0,739.0 C1591.2,747.2 1595.2,757.2 1599.0,765.0 C1602.8,772.8 1607.7,778.3 1612.0,785.6 C1616.3,792.9 1621.0,802.3 1625.0,809.0 C1629.0,815.7 1632.5,820.8 1636.0,826.0 C1639.5,831.2 1644.3,837.7 1646.0,840.0" fill="none" stroke="#10a060" stroke-width="2.4" stroke-linejoin="round"/>
<path d="M1282.0,419.7 C1284.6,419.3 1292.2,417.3 1297.7,417.3 C1303.2,417.3 1308.2,419.2 1315.0,419.7 C1321.8,420.2 1331.8,420.9 1338.6,420.5 C1345.4,420.1 1349.4,417.8 1355.9,417.3 C1362.5,416.8 1374.0,418.0 1377.9,417.3 C1381.8,416.6 1379.2,413.7 1379.5,413.0" fill="none" stroke="#b8f4e4" stroke-width="5" stroke-opacity=".95" stroke-linejoin="round"/>
<path d="M1282.0,419.7 C1284.6,419.3 1292.2,417.3 1297.7,417.3 C1303.2,417.3 1308.2,419.2 1315.0,419.7 C1321.8,420.2 1331.8,420.9 1338.6,420.5 C1345.4,420.1 1349.4,417.8 1355.9,417.3 C1362.5,416.8 1374.0,418.0 1377.9,417.3 C1381.8,416.6 1379.2,413.7 1379.5,413.0" fill="none" stroke="#10a060" stroke-width="2.4" stroke-linejoin="round"/>
<path d="M1291.4,350.5 C1290.0,351.1 1285.1,352.4 1283.0,354.0 C1280.9,355.6 1279.2,356.2 1278.8,360.0 C1278.3,363.8 1279.3,372.0 1280.3,377.0 C1281.3,382.0 1284.0,386.1 1285.0,389.8 C1286.0,393.5 1287.1,395.9 1286.6,399.0 C1286.1,402.1 1282.8,405.2 1282.0,408.7 C1281.2,412.1 1283.8,416.6 1282.0,419.7 C1280.2,422.8 1274.4,425.1 1271.0,427.5 C1267.6,429.9 1263.6,430.9 1261.5,433.8 C1259.4,436.7 1257.8,440.7 1258.3,444.9 C1258.8,449.1 1263.0,454.6 1264.6,459.0 C1266.2,463.4 1267.0,467.1 1267.8,471.6 C1268.6,476.1 1269.0,483.6 1269.3,486.0" fill="none" stroke="#b8f4e4" stroke-width="5" stroke-opacity=".95" stroke-linejoin="round"/>
<path d="M1291.4,350.5 C1290.0,351.1 1285.1,352.4 1283.0,354.0 C1280.9,355.6 1279.2,356.2 1278.8,360.0 C1278.3,363.8 1279.3,372.0 1280.3,377.0 C1281.3,382.0 1284.0,386.1 1285.0,389.8 C1286.0,393.5 1287.1,395.9 1286.6,399.0 C1286.1,402.1 1282.8,405.2 1282.0,408.7 C1281.2,412.1 1283.8,416.6 1282.0,419.7 C1280.2,422.8 1274.4,425.1 1271.0,427.5 C1267.6,429.9 1263.6,430.9 1261.5,433.8 C1259.4,436.7 1257.8,440.7 1258.3,444.9 C1258.8,449.1 1263.0,454.6 1264.6,459.0 C1266.2,463.4 1267.0,467.1 1267.8,471.6 C1268.6,476.1 1269.0,483.6 1269.3,486.0" fill="none" stroke="#10a060" stroke-width="2.4" stroke-linejoin="round"/>
<path d="M1291.4,350.5 C1295.3,350.2 1308.5,349.0 1315.0,349.0 C1321.5,349.0 1326.5,349.7 1330.7,350.5 C1334.9,351.3 1336.8,352.9 1340.0,353.6 C1343.2,354.4 1346.9,353.4 1349.6,355.0 C1352.2,356.6 1353.3,359.6 1355.9,363.0 C1358.5,366.4 1363.2,371.9 1365.3,375.6 C1367.4,379.3 1369.3,381.3 1368.5,385.0 C1367.7,388.7 1362.2,393.8 1360.6,397.7 C1359.0,401.6 1359.5,405.3 1359.0,408.7 C1358.5,412.1 1356.9,414.9 1357.4,418.0 C1357.9,421.1 1360.6,423.8 1362.2,427.5 C1363.8,431.2 1366.4,436.1 1366.9,440.0 C1367.4,443.9 1367.7,447.8 1365.3,451.0 C1362.9,454.2 1358.5,456.9 1352.7,459.0 C1346.9,461.1 1338.0,462.1 1330.7,463.7 C1323.4,465.3 1315.0,467.4 1308.7,468.5 C1302.4,469.6 1296.5,469.0 1293.0,470.0 C1289.5,471.0 1288.8,473.9 1288.0,474.7" fill="none" stroke="#b8f4e4" stroke-width="5" stroke-opacity=".95" stroke-linejoin="round"/>
<path d="M1291.4,350.5 C1295.3,350.2 1308.5,349.0 1315.0,349.0 C1321.5,349.0 1326.5,349.7 1330.7,350.5 C1334.9,351.3 1336.8,352.9 1340.0,353.6 C1343.2,354.4 1346.9,353.4 1349.6,355.0 C1352.2,356.6 1353.3,359.6 1355.9,363.0 C1358.5,366.4 1363.2,371.9 1365.3,375.6 C1367.4,379.3 1369.3,381.3 1368.5,385.0 C1367.7,388.7 1362.2,393.8 1360.6,397.7 C1359.0,401.6 1359.5,405.3 1359.0,408.7 C1358.5,412.1 1356.9,414.9 1357.4,418.0 C1357.9,421.1 1360.6,423.8 1362.2,427.5 C1363.8,431.2 1366.4,436.1 1366.9,440.0 C1367.4,443.9 1367.7,447.8 1365.3,451.0 C1362.9,454.2 1358.5,456.9 1352.7,459.0 C1346.9,461.1 1338.0,462.1 1330.7,463.7 C1323.4,465.3 1315.0,467.4 1308.7,468.5 C1302.4,469.6 1296.5,469.0 1293.0,470.0 C1289.5,471.0 1288.8,473.9 1288.0,474.7" fill="none" stroke="#10a060" stroke-width="2.4" stroke-linejoin="round"/>
<path d="M1322.8,451.0 L1305.5,451.5" fill="none" stroke="#b8f4e4" stroke-width="5" stroke-opacity=".95" stroke-linejoin="round"/>
<path d="M1322.8,451.0 L1305.5,451.5" fill="none" stroke="#10a060" stroke-width="2.4" stroke-linejoin="round"/>
<path d="M1322.8,447.2 C1325.7,446.6 1332.9,444.1 1340.0,443.3 C1347.1,442.5 1353.6,442.6 1365.3,442.5 C1377.0,442.4 1395.0,442.5 1410.0,442.5 C1425.0,442.5 1445.4,440.9 1455.6,442.6 C1465.8,444.4 1463.6,450.8 1471.0,453.0 C1478.4,455.2 1492.5,454.9 1500.0,455.6 C1507.5,456.3 1513.3,456.8 1516.0,457.0" fill="none" stroke="#b8f4e4" stroke-width="5" stroke-opacity=".95" stroke-linejoin="round"/>
<path d="M1322.8,447.2 C1325.7,446.6 1332.9,444.1 1340.0,443.3 C1347.1,442.5 1353.6,442.6 1365.3,442.5 C1377.0,442.4 1395.0,442.5 1410.0,442.5 C1425.0,442.5 1445.4,440.9 1455.6,442.6 C1465.8,444.4 1463.6,450.8 1471.0,453.0 C1478.4,455.2 1492.5,454.9 1500.0,455.6 C1507.5,456.3 1513.3,456.8 1516.0,457.0" fill="none" stroke="#10a060" stroke-width="2.4" stroke-linejoin="round"/>
<g transform="translate(1353.9,269.1) scale(1.026,0.987)">
<clipPath id="sh1373"><path d="M1,2.8 C7,3.8 14,2.6 19,0.8 C24,2.6 31,3.8 37,2.8 C39,14 36.5,27.5 19,38.5 C1.5,27.5 -1,14 1,2.8 Z"/></clipPath>
<path d="M1,2.8 C7,3.8 14,2.6 19,0.8 C24,2.6 31,3.8 37,2.8 C39,14 36.5,27.5 19,38.5 C1.5,27.5 -1,14 1,2.8 Z" fill="#1c4a8e"/>
<rect x="-2" y="-2" width="42" height="11" fill="#c8323f" clip-path="url(#sh1373)"/>
<rect x="-2" y="8.8" width="42" height="0.9" fill="#e8e8f0" clip-path="url(#sh1373)"/>
<path d="M1,2.8 C7,3.8 14,2.6 19,0.8 C24,2.6 31,3.8 37,2.8 C39,14 36.5,27.5 19,38.5 C1.5,27.5 -1,14 1,2.8 Z" fill="none" stroke="#b9c8f5" stroke-width="1.1"/>
<text x="19" y="7.4" font-size="4.4" font-weight="bold" fill="#f3c8cc" text-anchor="middle" textLength="22" lengthAdjust="spacingAndGlyphs">INTERSTATE</text>
<text x="19" y="29.5" font-size="21" font-weight="bold" fill="#fff" text-anchor="middle">4</text>
</g>
<g transform="translate(1423.8,292.3) scale(0.987,0.974)">
<clipPath id="sh1442"><path d="M1,2.8 C7,3.8 14,2.6 19,0.8 C24,2.6 31,3.8 37,2.8 C39,14 36.5,27.5 19,38.5 C1.5,27.5 -1,14 1,2.8 Z"/></clipPath>
<path d="M1,2.8 C7,3.8 14,2.6 19,0.8 C24,2.6 31,3.8 37,2.8 C39,14 36.5,27.5 19,38.5 C1.5,27.5 -1,14 1,2.8 Z" fill="#1c4a8e"/>
<rect x="-2" y="-2" width="42" height="11" fill="#c8323f" clip-path="url(#sh1442)"/>
<rect x="-2" y="8.8" width="42" height="0.9" fill="#e8e8f0" clip-path="url(#sh1442)"/>
<path d="M1,2.8 C7,3.8 14,2.6 19,0.8 C24,2.6 31,3.8 37,2.8 C39,14 36.5,27.5 19,38.5 C1.5,27.5 -1,14 1,2.8 Z" fill="none" stroke="#b9c8f5" stroke-width="1.1"/>
<text x="19" y="7.4" font-size="4.4" font-weight="bold" fill="#f3c8cc" text-anchor="middle" textLength="22" lengthAdjust="spacingAndGlyphs">INTERSTATE</text>
<text x="19" y="29.5" font-size="20" font-weight="bold" fill="#fff" text-anchor="middle">95</text>
</g>
<g transform="translate(1511.4,567.5) scale(1.011,1.000)">
<clipPath id="sh1530"><path d="M1,2.8 C7,3.8 14,2.6 19,0.8 C24,2.6 31,3.8 37,2.8 C39,14 36.5,27.5 19,38.5 C1.5,27.5 -1,14 1,2.8 Z"/></clipPath>
<path d="M1,2.8 C7,3.8 14,2.6 19,0.8 C24,2.6 31,3.8 37,2.8 C39,14 36.5,27.5 19,38.5 C1.5,27.5 -1,14 1,2.8 Z" fill="#1c4a8e"/>
<rect x="-2" y="-2" width="42" height="11" fill="#c8323f" clip-path="url(#sh1530)"/>
<rect x="-2" y="8.8" width="42" height="0.9" fill="#e8e8f0" clip-path="url(#sh1530)"/>
<path d="M1,2.8 C7,3.8 14,2.6 19,0.8 C24,2.6 31,3.8 37,2.8 C39,14 36.5,27.5 19,38.5 C1.5,27.5 -1,14 1,2.8 Z" fill="none" stroke="#b9c8f5" stroke-width="1.1"/>
<text x="19" y="7.4" font-size="4.4" font-weight="bold" fill="#f3c8cc" text-anchor="middle" textLength="22" lengthAdjust="spacingAndGlyphs">INTERSTATE</text>
<text x="19" y="29.5" font-size="20" font-weight="bold" fill="#fff" text-anchor="middle">95</text>
</g>
<g transform="translate(1196.0,365.0)">
<rect x="0" y="0" width="34" height="41" rx="1.5" fill="#1f7f63" stroke="#a8d8c8" stroke-width="1"/>
<text x="17" y="8.5" font-size="6" font-weight="bold" fill="#cfeee2" text-anchor="middle" textLength="26" lengthAdjust="spacingAndGlyphs">FLORIDA'S</text>
<text x="17" y="15.5" font-size="6" font-weight="bold" fill="#cfeee2" text-anchor="middle" textLength="26" lengthAdjust="spacingAndGlyphs">TURNPIKE</text>
<path d="M7,21 L20,21.5 L22,23 L25,22.5 L27,27 L28.5,32 L28,36 L26,37 L24,33 L22,30 L20.5,26.5 L17,24.5 L13.5,25.5 L11,23.5 L7,23 Z" fill="#fff"/>
</g>
<g transform="translate(1435.4,614.5)">
<rect x="0" y="0" width="34" height="41" rx="1.5" fill="#1f7f63" stroke="#a8d8c8" stroke-width="1"/>
<text x="17" y="8.5" font-size="6" font-weight="bold" fill="#cfeee2" text-anchor="middle" textLength="26" lengthAdjust="spacingAndGlyphs">FLORIDA'S</text>
<text x="17" y="15.5" font-size="6" font-weight="bold" fill="#cfeee2" text-anchor="middle" textLength="26" lengthAdjust="spacingAndGlyphs">TURNPIKE</text>
<path d="M7,21 L20,21.5 L22,23 L25,22.5 L27,27 L28.5,32 L28,36 L26,37 L24,33 L22,30 L20.5,26.5 L17,24.5 L13.5,25.5 L11,23.5 L7,23 Z" fill="#fff"/>
</g>
<path d="M1410,234.5 L1416.5,241 L1410,247.5 L1403.5,241 Z" fill="#fff"/>
<path d="M1358,340.5 L1364.5,347 L1358,353.5 L1351.5,347 Z" fill="#fff"/>
<path d="M1209,338.5 L1215.5,345 L1209,351.5 L1202.5,345 Z" fill="#fff"/>
<path d="M1326,408.1 L1338.5,420.6 L1326,433.1 L1313.5,420.6 Z" fill="#fff"/>
<path d="M1474,390.5 L1480.5,397 L1474,403.5 L1467.5,397 Z" fill="#fff"/>
<path d="M1313,481.5 L1319.5,488 L1313,494.5 L1306.5,488 Z" fill="#fff"/>
<path d="M1409,552.5 L1415.5,559 L1409,565.5 L1402.5,559 Z" fill="#fff"/>
<path d="M1520,529.5 L1526.5,536 L1520,542.5 L1513.5,536 Z" fill="#fff"/>
<path d="M1576,645.5 L1582.5,652 L1576,658.5 L1569.5,652 Z" fill="#fff"/>
<path d="M1480,745.5 L1486.5,752 L1480,758.5 L1473.5,752 Z" fill="#fff"/>
<path d="M1592,737.1 L1598.5,743.6 L1592,750.1 L1585.5,743.6 Z" fill="#fff"/>
<path d="M1624,768.5 L1630.5,775 L1624,781.5 L1617.5,775 Z" fill="#fff"/>
</g>
<g clip-path="url(#whiteclip)">
<rect x="0" y="120" width="931" height="860" fill="#fff"/>
<g stroke="#fff" stroke-linecap="round" stroke-dasharray="0 5.3" fill="none"><line x1="927.40" y1="120.00" x2="927.40" y2="980" stroke-width="5.13"/><line x1="931.00" y1="122.65" x2="931.00" y2="980" stroke-width="4.95"/><line x1="934.60" y1="120.00" x2="934.60" y2="980" stroke-width="4.77"/><line x1="938.20" y1="122.65" x2="938.20" y2="980" stroke-width="4.59"/><line x1="941.80" y1="120.00" x2="941.80" y2="980" stroke-width="4.41"/><line x1="945.40" y1="122.65" x2="945.40" y2="980" stroke-width="4.23"/><line x1="949.00" y1="120.00" x2="949.00" y2="980" stroke-width="4.05"/><line x1="952.60" y1="122.65" x2="952.60" y2="980" stroke-width="3.87"/><line x1="956.20" y1="120.00" x2="956.20" y2="980" stroke-width="3.69"/><line x1="959.80" y1="122.65" x2="959.80" y2="980" stroke-width="3.51"/><line x1="963.40" y1="120.00" x2="963.40" y2="980" stroke-width="3.33"/><line x1="967.00" y1="122.65" x2="967.00" y2="980" stroke-width="3.15"/><line x1="970.60" y1="120.00" x2="970.60" y2="980" stroke-width="2.97"/><line x1="974.20" y1="122.65" x2="974.20" y2="980" stroke-width="2.79"/><line x1="977.80" y1="120.00" x2="977.80" y2="980" stroke-width="2.61"/><line x1="981.40" y1="122.65" x2="981.40" y2="980" stroke-width="2.43"/><line x1="985.00" y1="120.00" x2="985.00" y2="980" stroke-width="2.25"/><line x1="988.60" y1="122.65" x2="988.60" y2="980" stroke-width="2.07"/><line x1="992.20" y1="120.00" x2="992.20" y2="980" stroke-width="1.89"/><line x1="995.80" y1="122.65" x2="995.80" y2="980" stroke-width="1.71"/><line x1="999.40" y1="120.00" x2="999.40" y2="980" stroke-width="1.53"/><line x1="1003.00" y1="122.65" x2="1003.00" y2="980" stroke-width="1.35"/><line x1="1006.60" y1="120.00" x2="1006.60" y2="980" stroke-width="1.17"/><line x1="1010.20" y1="122.65" x2="1010.20" y2="980" stroke-width="0.99"/><line x1="1013.80" y1="120.00" x2="1013.80" y2="980" stroke-width="0.81"/><line x1="1017.40" y1="122.65" x2="1017.40" y2="980" stroke-width="0.63"/><line x1="1021.00" y1="120.00" x2="1021.00" y2="980" stroke-width="0.45"/></g>
</g>
<path d="M0,192 L925,192 L915,214.5 L0,214.5 Z" fill="#3300ff"/>
<path d="M0,888 L915,888 L925,909 L0,909 Z" fill="#3300ff"/>
<path d="M960,108 L1920,108 L1920,130 L952,130 Z" fill="#3300ff"/>
<path d="M952,969 L1920,969 L1920,993 L961,993 Z" fill="#3300ff"/>
<path d="M0,192 L925,192 L923,198 L0,198 Z" fill="url(#shd)"/>
<path d="M960,108 L1920,108 L1920,113 L958,113 Z" fill="url(#shd)"/>
<path d="M0,904 L923,904 L925,909 L0,909 Z" fill="url(#shu)"/>
<path d="M959,988 L1920,988 L1920,993 L961,993 Z" fill="url(#shu)"/>
<rect x="1743.8" y="740.5" width="180" height="107.2" fill="#3300ff"/>
<rect x="1743.8" y="857.6" width="180" height="102.4" fill="#b9eded"/>
<rect x="1509" y="28" width="390.5" height="49.8" fill="#000" fill-opacity=".18"/><rect x="1511" y="30" width="386.5" height="45.8" fill="#484848"/>
<rect x="97" y="244" width="302" height="53" fill="#3300ff"/>
<rect x="43.5" y="461" width="4.2" height="170" fill="#3300ff"/>
<rect x="53" y="461" width="100" height="170" fill="#3300ff"/>
<rect x="157.6" y="461" width="366.4" height="170" fill="#3300ff"/>
<rect x="526" y="461" width="348" height="49.5" fill="#3300ff"/>
<rect x="526" y="511.8" width="348" height="59" fill="#3300ff"/>
<rect x="526" y="572" width="348" height="59" fill="#3300ff"/>
<rect x="287.5" y="1023.6" width="74.4" height="2" fill="#fff"/>
<rect x="750.8" y="1023.6" width="74.4" height="2" fill="#fff"/>
</svg>
<svg width="1920" height="1080" viewBox="0 0 1920 1080">
<path d="M44.3,267.2 L70.5,267.2 L61.3,257.5 L69.3,257.5 L82.9,270.4 L69.3,283.6 L61.3,283.6 L70.5,273.6 L44.3,273.6 Z" fill="#000"/>
<path d="M237,543 L264,543 M254,534 L265,543 L254,552" fill="none" stroke="#fff" stroke-width="3.4" stroke-linejoin="miter"/>
<path d="M237,595.8 L264,595.8 M254,586.8 L265,595.8 L254,604.8" fill="none" stroke="#fff" stroke-width="3.4" stroke-linejoin="miter"/>
<rect x="47.2" y="645.8" width="109.6" height="109.6" rx="14" fill="#282828"/>
<rect x="46.9" y="766.3" width="110" height="110" rx="14" fill="#282828"/>
<rect x="469.8" y="645.3" width="110.4" height="109.7" rx="18" fill="#282828"/>
<rect x="469.8" y="766.4" width="109.8" height="109.4" rx="9.5" fill="#282828"/>
<path d="M60.4,512.2 L97,512.2 M60.4,538 L88.2,538 M60.4,564.3 L80.3,564.3" fill="none" stroke="#fff" stroke-width="3.8"/>
<g transform="translate(112.3,537.8) rotate(11)">
<rect x="-16.5" y="-41" width="33" height="83" rx="4" fill="none" stroke="#fff" stroke-width="3.6"/>
<path d="M-2.2,-31 L2.4,-31 L2.4,18 A9,9 0 1 1 -2.2,18 Z" fill="#fff"/>
<circle cx="0" cy="26" r="9" fill="#fff"/>
<path d="M3,-28 h7 M3,-22.5 h5 M3,-17 h7 M3,-11.5 h5 M3,-6 h7 M3,-0.5 h5 M3,5 h7 M3,10.5 h5" stroke="#fff" stroke-width="1.5"/>
<path d="M-19,-36 C-20,-46 -14,-48 -6,-47 L10,-46 C20,-47 23,-40 22,-30 L22,-8 L20,4 L18,-10 L17,-24 L14,-14 L12,-30 L8,-36 L2,-38 L-6,-34 L-10,-26 L-12,-36 Z" fill="#fff"/>
<path d="M-18.5,41 L-15.5,56 L-11.5,44 L-7,70 L-2,45 L2.5,67 L7,45 L10.5,55 L14,43 L17,46 L17,41 Z" fill="#fff"/>
</g>
<g fill="#fff">
<ellipse cx="86" cy="793.4" rx="12.5" ry="14.5"/><ellipse cx="116" cy="793.4" rx="12.5" ry="14.5"/>
<ellipse cx="69.8" cy="819" rx="10.4" ry="14" transform="rotate(-12 69.8 819)"/><ellipse cx="131.9" cy="819" rx="10.4" ry="14" transform="rotate(12 131.9 819)"/>
<path d="M101,811 C112,811 118,822 124,833 C133,845 134,858 124,863 C115,867 109,860 101,860 C93,860 87,867 78,863 C68,858 69,845 78,833 C84,822 90,811 101,811 Z"/>
</g>
<g fill="#fff">
<path d="M85,713 C79,701 77,685 82,678 C87,671 97,672 100,682 L101,693 C102,688 105,685 107,687.5 C108.5,690 104.5,700 103,706 L104.5,713 L97.5,716.5 Z"/>
<path d="M55,699 C57,691 66,688 72,694 L77,698 C76,692 80,691 82.5,696 L87,710 L94,718 L85.5,727.5 C75,722 62,716 57,710 C54,706 54,702 55,699 Z"/>
<path d="M113.8,682 C116,672 126,665.5 136,668 C146,671 151.5,680 150.5,688 L148.5,697.5 C138,692 124,690.5 113.5,691.5 Z"/>
<circle cx="137.4" cy="663.5" r="7.5"/>
</g>
<path d="M85.5,712 C82,704 80.5,694 82,686" fill="none" stroke="#bbb" stroke-width="2.5" stroke-opacity=".7"/>
<path d="M114,683 C126,680.5 140,683 150.5,689" fill="none" stroke="#dedede" stroke-width="4"/>
<g fill="#282828" stroke="#fff" stroke-width="2.2" stroke-linejoin="round"><path d="M112.5,714 L129,714 L129,721.5 L112.5,720.5 Z"/><path d="M118,718 L129,718" fill="none" stroke-width="1.6"/><path d="M129,714 L146.5,715 L146.5,725 L141,725 L142,737.5 L132,741 L129,722 Z"/><path d="M135,716 L141,716 L142,737 L136.5,739 Z" fill="#282828" stroke-width="1.4"/></g>
<path d="M132.5,741 v3.5 M136,740 v3.5 M139.5,739 v3.5 M142.5,738 v3" stroke="#fff" stroke-width="1.8" fill="none"/>
<rect x="507" y="653" width="35" height="14" rx="3.5" fill="#fff"/>
<rect x="496" y="661" width="57.4" height="82" rx="4.5" fill="#fff"/>
<rect x="511" y="657.2" width="26.6" height="3.7" fill="#1c1c1c"/>
<rect x="501.5" y="672.50" width="21.1" height="2.4" rx=".8" fill="#1c1c1c"/><rect x="525.9" y="672.50" width="21.1" height="2.4" rx=".8" fill="#1c1c1c"/>
<rect x="501.5" y="676.77" width="21.1" height="2.4" rx=".8" fill="#1c1c1c"/><rect x="525.9" y="676.77" width="21.1" height="2.4" rx=".8" fill="#1c1c1c"/>
<rect x="501.5" y="681.05" width="21.1" height="2.4" rx=".8" fill="#1c1c1c"/><rect x="525.9" y="681.05" width="21.1" height="2.4" rx=".8" fill="#1c1c1c"/>
<rect x="501.5" y="685.33" width="21.1" height="2.4" rx=".8" fill="#1c1c1c"/><rect x="525.9" y="685.33" width="21.1" height="2.4" rx=".8" fill="#1c1c1c"/>
<rect x="501.5" y="689.60" width="21.1" height="2.4" rx=".8" fill="#1c1c1c"/><rect x="525.9" y="689.60" width="21.1" height="2.4" rx=".8" fill="#1c1c1c"/>
<rect x="501.5" y="693.88" width="21.1" height="2.4" rx=".8" fill="#1c1c1c"/><rect x="525.9" y="693.88" width="21.1" height="2.4" rx=".8" fill="#1c1c1c"/>
<rect x="501.5" y="698.15" width="21.1" height="2.4" rx=".8" fill="#1c1c1c"/><rect x="525.9" y="698.15" width="21.1" height="2.4" rx=".8" fill="#1c1c1c"/>
<rect x="501.5" y="702.42" width="21.1" height="2.4" rx=".8" fill="#1c1c1c"/><rect x="525.9" y="702.42" width="21.1" height="2.4" rx=".8" fill="#1c1c1c"/>
<rect x="501.5" y="706.70" width="21.1" height="2.4" rx=".8" fill="#1c1c1c"/><rect x="525.9" y="706.70" width="21.1" height="2.4" rx=".8" fill="#1c1c1c"/>
<circle cx="524.2" cy="728.3" r="5.6" fill="#1c1c1c"/><path d="M521.5,729.5 L526.8,725.8 L525.6,731.2 Z" fill="#fff"/>
<path d="M518.2,718.5 L519.8,721 M524.4,717.4 L524.4,720.6 M530.4,718.5 L528.8,721.2" stroke="#1c1c1c" stroke-width="1.3"/>
<g fill="none" stroke="#f0f0f0" stroke-width="2.1" stroke-linecap="round"><path d="M473,676 C477,682 481,676 485,679 C488,681 490,680 491.5,678"/><path d="M473,681.5 C477,687.5 481,681.5 485,684.5 C488,686.5 490,686 491.5,684"/><path d="M558,680 C561,676 565,682 569,679 C573,676 575,675 577,672"/><path d="M558,686 C561,682 565,688 569,685 C573,682 575,681 577,678"/></g>
<circle cx="522.3" cy="821.5" r="30" fill="#fff"/>
<path d="M558.9,846.2 L555.1,851.1 L550.6,855.4 L545.6,859.1 L540.1,862.0 L534.2,864.1 L528.1,865.3 L521.9,865.7 L515.7,865.2 L509.6,863.8 L503.8,861.6 L498.3,858.6 L493.4,854.9 L489.0,850.5 L485.2,845.5 L482.2,840.1 L480.0,834.3 L478.6,828.2 L478.1,822.0 L478.5,815.8 L479.7,809.7 L481.8,803.8 L484.7,798.3 L488.3,793.3 L492.6,788.8 L497.5,784.9 L502.9,781.8 L508.7,779.5 L514.7,778.0 L520.9,777.3 L527.1,777.6 L533.2,778.7 L539.1,780.6 L544.7,783.4 L549.8,786.9 L554.4,791.1 L558.4,796.0 L561.6,801.3 L564.1,807.0 L565.7,813.0 L566.4,819.2 L559.2,819.6 L558.7,814.4 L557.5,809.3 L555.5,804.4 L552.9,799.9 L549.6,795.7 L545.8,792.0 L541.5,788.9 L536.7,786.4 L531.7,784.6 L526.5,783.6 L521.1,783.2 L515.7,783.7 L510.4,784.9 L505.3,786.8 L500.6,789.4 L496.2,792.7 L492.3,796.6 L489.0,801.0 L486.3,805.8 L484.3,811.0 L483.1,816.4 L482.7,821.9 L483.0,827.5 L484.1,833.0 L486.0,838.3 L488.6,843.4 L491.9,848.0 L495.8,852.1 L500.3,855.6 L505.2,858.5 L510.6,860.7 L516.2,862.1 L521.9,862.7 L527.7,862.5 L533.5,861.5 L539.1,859.7 L544.4,857.1 L549.3,853.8 L553.7,849.9 L557.6,845.3Z" fill="#fff"/>
<path d="M555.6,819.5 L571,819.5 L563.3,832.5 Z" fill="#fff"/>
<path d="M522,804.5 L522,822 L535.5,822" fill="none" stroke="#282828" stroke-width="6" stroke-linecap="round" stroke-linejoin="round"/>
</svg>
<svg width="1920" height="1080" viewBox="0 0 1920 1080" font-family="Liberation Sans, sans-serif">
<circle cx="187" cy="991.3" r="75" fill="#fff"/>
<circle cx="188" cy="991.7" r="45.5" fill="#38a4e4" stroke="#1a1aa0" stroke-width="1.2"/>
<g stroke="#1a1aa0" stroke-width="1" fill="none"><path d="M188,946 L188,975 M208,951 L200,975 M226,966 L210,980 M167,951 L176,975 M150,966 L166,980"/></g>
<path d="M146,1008 C155,1022 170,1018 180,1022 C195,1026 215,1020 228,1006 L230,1012 C215,1028 195,1032 180,1028 C168,1026 155,1028 148,1016 Z" fill="#fff"/>
<path d="M150,1000 C158,1015 175,1012 185,1016 C200,1020 215,1014 226,1004 L226,996 L150,996 Z" fill="#fff"/>
<path d="M140,978 C132,974 138,962 150,964 C156,954 172,954 178,960 C186,950 206,952 212,962 C224,958 240,968 236,980 C244,986 238,998 228,998 C224,1008 208,1010 200,1004 C192,1014 172,1014 166,1006 C154,1012 138,1004 142,996 C132,992 132,982 140,978 Z" fill="#0a0aa8"/>
<path d="M150,950.5 L164,951.5 L184,972 L177,974 L198,990 L191,992.5 L224,1029 L194,1004 L202,1001.5 L176,983 L184,980.5 Z" fill="#fff" stroke="#1a1aa0" stroke-width=".8"/>
<defs><path id="arcFull" d="M187,1044.8 A53.5,53.5 0 1 1 187.01,1044.8"/></defs>
<text font-size="20" font-weight="bold" fill="#e8202a" stroke="#e8202a" stroke-width=".5"><textPath href="#arcFull" startOffset="31.7" textLength="275" lengthAdjust="spacingAndGlyphs">NATIONAL WEATHER SERVICE</textPath></text>
<path d="M168.5,1049.8 L169.3,1052.0 L171.5,1052.0 L169.7,1053.4 L170.4,1055.6 L168.5,1054.3 L166.6,1055.6 L167.3,1053.4 L165.5,1052.0 L167.7,1052.0Z" fill="#1a1aa0"/>
<path d="M187.0,1050.9 L188.1,1054.0 L191.4,1054.1 L188.7,1056.1 L189.7,1059.2 L187.0,1057.3 L184.3,1059.2 L185.3,1056.1 L182.6,1054.1 L185.9,1054.0Z" fill="#e8202a"/>
<path d="M205.0,1049.8 L205.8,1052.0 L208.0,1052.0 L206.2,1053.4 L206.9,1055.6 L205.0,1054.3 L203.1,1055.6 L203.8,1053.4 L202.0,1052.0 L204.2,1052.0Z" fill="#1a1aa0"/>
<g fill="#dcdcdc" stroke="#dcdcdc">
<path d="M578,1046 C580,1030 576,1018 572,1010 L575,1009 C581,1018 584,1030 583,1046 Z" stroke="none"/>
<path d="M586,1046 C586,1036 590,1028 594,1021 L596,1022 C593,1030 590,1038 590,1046 Z" stroke="none"/>
<path d="M573,1010 L562,1004 M573,1010 L565,998 M573,1010 L574,998 M573,1010 L582,1000 M573,1010 L586,1006 M573,1010 L564,1014 M573,1010 L583,1016 M573,1010 L568,1020" stroke-width="2.6" stroke-linecap="round" fill="none"/>
<path d="M595,1021 L586,1016 M595,1021 L590,1010 M595,1021 L598,1010 M595,1021 L604,1014 M595,1021 L607,1020 M595,1021 L588,1026 M595,1021 L603,1028 M595,1021 L593,1030" stroke-width="2.2" stroke-linecap="round" fill="none"/>
<ellipse cx="584" cy="1047" rx="9" ry="2" stroke="none"/>
</g>
</svg>
<span class="t" style="left:44.88px;top:18.34px;font-size:79.22px;color:#fff;transform:scaleX(0.9889);">Extreme Cold</span>
<span class="t" style="left:542.50px;top:18.34px;font-size:79.22px;color:#fff;transform:scaleX(0.9520);font-weight:bold;">WARNING</span>
<span class="t" style="left:48.90px;top:127.79px;font-size:34.16px;color:#fff;transform:scaleX(1.0299);font-weight:bold;">7 PM Tonight - 1 PM Sunday</span>
<span class="t" style="left:1526.70px;top:43.49px;font-size:19.62px;color:#f2f2f2;transform:scaleX(0.9765);font-weight:bold;font-style:italic;">More info:</span>
<span class="t" style="left:1624.56px;top:43.49px;font-size:19.62px;color:#f2f2f2;transform:scaleX(1.0264);font-style:italic;">weather.gov/mlb/coldsupport</span>
<span class="t" style="left:98.70px;top:248.26px;font-size:45.06px;color:#fff;transform:scaleX(0.9163);font-weight:bold;">WARNING</span>
<span class="t" style="left:309.00px;top:248.26px;font-size:45.06px;color:#fff;transform:scaleX(0.9176);">Area</span>
<span class="t" style="left:98.50px;top:301.39px;font-size:36.63px;color:#000;transform:scaleX(0.9811);">Volusia, Lake, Seminole, Orange, Osceola,</span>
<span class="t" style="left:95.69px;top:345.99px;font-size:36.63px;color:#000;transform:scaleX(0.9820);">Brevard, Indian River, St Lucie, Martin, &</span>
<span class="t" style="left:96.78px;top:390.69px;font-size:36.63px;color:#000;transform:scaleX(1.0011);">Okeechobee Counties</span>
<span class="t" style="left:170.71px;top:479.75px;font-size:26.16px;color:#fff;transform:scaleX(0.7909);font-weight:bold;">Dangerously cold temps expected.</span>
<span class="t" style="left:309.02px;top:527.33px;font-size:31.98px;color:#fff;transform:scaleX(0.9916);font-weight:bold;">Low Temps:</span>
<span class="t" style="left:311.00px;top:580.83px;font-size:31.98px;color:#fff;transform:scaleX(0.9610);font-weight:bold;">Wind Chills:</span>
<span class="t" style="left:613.50px;top:474.65px;font-size:24.27px;color:#fff;transform:scaleX(0.9795);font-weight:bold;">WARNING</span>
<span class="t" style="left:735.00px;top:474.65px;font-size:24.27px;color:#fff;transform:scaleX(0.9917);">Area</span>
<span class="t" style="left:639.53px;top:525.23px;font-size:33.87px;color:#fff;transform:scaleX(1.0073);font-weight:bold;">22 - 27°</span>
<span class="t" style="left:648.93px;top:585.23px;font-size:33.87px;color:#fff;transform:scaleX(1.0132);font-weight:bold;">9 - 15°</span>
<span class="t" style="left:174.04px;top:656.14px;font-size:21.80px;color:#000;transform:scaleX(0.9689);font-weight:bold;">Cover exposed skin</span>
<span class="t" style="left:174.39px;top:683.44px;font-size:21.80px;color:#000;transform:scaleX(0.9177);font-style:italic;">and dress in layers</span>
<span class="t" style="left:174.03px;top:710.54px;font-size:21.80px;color:#000;transform:scaleX(0.9846);font-style:italic;">to avoid frostbite</span>
<span class="t" style="left:173.37px;top:779.94px;font-size:21.80px;color:#000;transform:scaleX(0.9726);font-weight:bold;">Bring pets indoors</span>
<span class="t" style="left:597.72px;top:657.94px;font-size:21.80px;color:#000;transform:scaleX(0.9939);font-weight:bold;">Caution with space heaters</span>
<span class="t" style="left:598.05px;top:684.94px;font-size:21.80px;color:#000;transform:scaleX(1.0198);font-style:italic;">Keep flammables 3+ feet</span>
<span class="t" style="left:598.05px;top:712.34px;font-size:21.80px;color:#000;transform:scaleX(1.0324);font-style:italic;">away</span>
<span class="t" style="left:597.02px;top:781.14px;font-size:21.80px;color:#000;transform:scaleX(1.0098);font-weight:bold;">Limit Time Outdoors</span>
<span class="t" style="left:597.69px;top:809.34px;font-size:21.80px;color:#000;transform:scaleX(1.0454);font-style:italic;">during the coldest part of the</span>
<span class="t" style="left:597.69px;top:835.54px;font-size:21.80px;color:#000;transform:scaleX(1.0493);font-style:italic;">day</span>
<span class="t" style="left:285.80px;top:939.80px;font-size:47.97px;color:#fff;transform:scaleX(0.7662);font-weight:bold;">WEATHER FORECAST OFFICE</span>
<span class="t" style="left:387.98px;top:1003.81px;font-size:37.79px;color:#fff;transform:scaleX(0.8564);font-weight:bold;">Melbourne</span>
<span class="t" style="left:621.05px;top:1003.81px;font-size:37.79px;color:#fff;transform:scaleX(0.8252);font-weight:bold;">Florida</span>
<span class="t" style="left:1410.03px;top:1026.88px;font-size:29.80px;color:#d4d4d4;transform:scaleX(1.0575);font-style:italic;">Updated: January 31,</span>
<span class="t" style="left:1553.48px;top:1063.68px;font-size:29.80px;color:#d4d4d4;transform:scaleX(1.0303);font-style:italic;">2026 January 31</span>
<span class="t" style="left:1776.47px;top:755.84px;font-size:21.80px;color:#ece6ff;transform:scaleX(1.0468);font-weight:bold;">EXTREME</span>
<span class="t" style="left:1778.07px;top:783.22px;font-size:27.62px;color:#ece6ff;transform:scaleX(1.0761);font-weight:bold;">C O L D</span>
<span class="t" style="left:1758.50px;top:815.21px;font-size:18.90px;color:#ece6ff;transform:scaleX(0.9904);">WARNING AREA</span>
<span class="t" style="left:1778.08px;top:868.85px;font-size:26.16px;color:#000;transform:scaleX(1.1252);font-weight:bold;">C O L D</span>
<span class="t" style="left:1762.00px;top:901.91px;font-size:27.03px;color:#000;transform:scaleX(1.0362);font-weight:bold;-webkit-text-stroke:0.6px #000;">WEATHER</span>
<span class="t" style="left:1756.80px;top:933.41px;font-size:18.90px;color:#000;transform:scaleX(0.9682);">ADVISORY AREA</span>
<span class="t" style="left:1403.73px;top:206.33px;font-size:22.53px;color:#fff;transform:scaleX(0.8330);text-shadow:1px 2px 2px rgba(0,0,0,.75);">Daytona Beach</span>
<span class="t" style="left:1350.40px;top:312.33px;font-size:22.53px;color:#fff;transform:scaleX(0.8578);text-shadow:1px 2px 2px rgba(0,0,0,.75);">Sanford</span>
<span class="t" style="left:1201.51px;top:309.83px;font-size:22.53px;color:#fff;transform:scaleX(0.8469);text-shadow:1px 2px 2px rgba(0,0,0,.75);">Leesburg</span>
<span class="t" style="left:1314.48px;top:376.41px;font-size:28.34px;color:#fff;transform:scaleX(0.8439);text-shadow:1px 2px 2px rgba(0,0,0,.75);">Orlando</span>
<span class="t" style="left:1467.69px;top:364.83px;font-size:22.53px;color:#fff;transform:scaleX(0.8722);text-shadow:1px 2px 2px rgba(0,0,0,.75);">Titusville</span>
<span class="t" style="left:1302.50px;top:454.33px;font-size:22.53px;color:#fff;transform:scaleX(0.8513);text-shadow:1px 2px 2px rgba(0,0,0,.75);">Kissimmee</span>
<span class="t" style="left:1400.21px;top:523.83px;font-size:22.53px;color:#fff;transform:scaleX(0.8468);text-shadow:1px 2px 2px rgba(0,0,0,.75);">Kenansville</span>
<span class="t" style="left:1510.46px;top:500.33px;font-size:22.53px;color:#fff;transform:scaleX(0.8749);text-shadow:1px 2px 2px rgba(0,0,0,.75);">Melbourne</span>
<span class="t" style="left:1567.70px;top:616.33px;font-size:22.53px;color:#fff;transform:scaleX(0.8080);text-shadow:1px 2px 2px rgba(0,0,0,.75);">Vero Beach</span>
<span class="t" style="left:1471.94px;top:718.33px;font-size:22.53px;color:#fff;transform:scaleX(0.8164);text-shadow:1px 2px 2px rgba(0,0,0,.75);">Okeechobee</span>
<span class="t" style="left:1583.54px;top:707.33px;font-size:22.53px;color:#fff;transform:scaleX(0.8313);text-shadow:1px 2px 2px rgba(0,0,0,.75);">Port St Lucie</span>
<span class="t" style="left:1615.40px;top:739.73px;font-size:22.53px;color:#fff;transform:scaleX(0.8574);text-shadow:1px 2px 2px rgba(0,0,0,.75);">Stuart</span>
<span class="t" style="left:1694.82px;top:563.17px;font-size:10.90px;color:#4e4e56;transform:scaleX(1.2078);font-style:italic;">Atlantic</span>
<span class="t" style="left:1699.46px;top:578.17px;font-size:10.90px;color:#4e4e56;transform:scaleX(1.0589);font-style:italic;">Ocean</span>
</div>
</body></html>
